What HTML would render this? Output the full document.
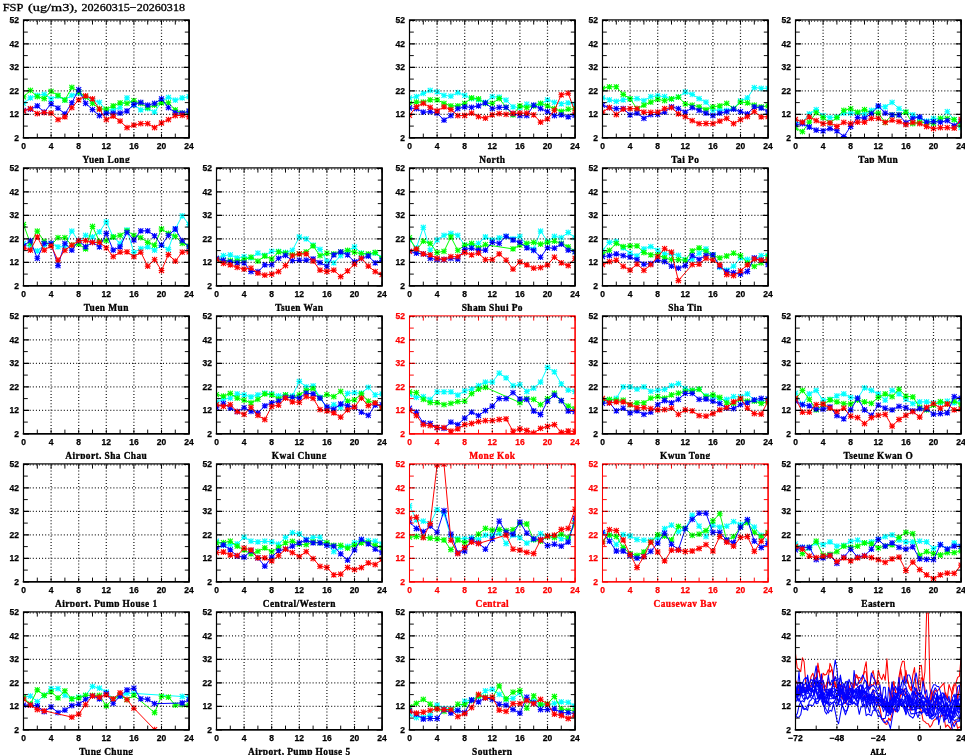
<!DOCTYPE html>
<html><head><meta charset="utf-8"><title>FSP</title>
<style>html,body{margin:0;padding:0;background:#fff}svg{display:block;will-change:transform}text{font-family:"Liberation Serif",serif}.t text{font-family:"Liberation Sans",sans-serif;font-weight:bold;font-size:8.5px;stroke-width:.25px;stroke:currentColor}.n{font-weight:bold;font-size:9.4px;letter-spacing:.42px;text-anchor:middle;stroke-width:.3px}.g{stroke:#000;stroke-width:1.25;stroke-dasharray:1 2.1;fill:none;opacity:.88}</style></head><body>
<svg width="965" height="755" viewBox="0 0 965 755">
<rect width="965" height="755" fill="#fff"/>
<defs>
<marker id="mr" markerWidth="8" markerHeight="8" refX="4" refY="4" markerUnits="userSpaceOnUse" overflow="visible"><path d="M1.1 4H6.9M4 1.1V6.9M1.5 1.5L6.5 6.5M1.5 6.5L6.5 1.5" stroke="#ff0000" stroke-width="1.08" fill="none"/></marker>
<marker id="mb" markerWidth="8" markerHeight="8" refX="4" refY="4" markerUnits="userSpaceOnUse" overflow="visible"><path d="M1.1 4H6.9M4 1.1V6.9M1.5 1.5L6.5 6.5M1.5 6.5L6.5 1.5" stroke="#0000ff" stroke-width="1.08" fill="none"/></marker>
<marker id="mg" markerWidth="8" markerHeight="8" refX="4" refY="4" markerUnits="userSpaceOnUse" overflow="visible"><path d="M1.1 4H6.9M4 1.1V6.9M1.5 1.5L6.5 6.5M1.5 6.5L6.5 1.5" stroke="#00ff00" stroke-width="1.08" fill="none"/></marker>
<marker id="mc" markerWidth="8" markerHeight="8" refX="4" refY="4" markerUnits="userSpaceOnUse" overflow="visible"><path d="M1.1 4H6.9M4 1.1V6.9M1.5 1.5L6.5 6.5M1.5 6.5L6.5 1.5" stroke="#00ffff" stroke-width="1.08" fill="none"/></marker>
</defs>
<g font-size="10.6" stroke="#000" stroke-width=".3"><text x="2.7" y="10.5" textLength="20.7" lengthAdjust="spacingAndGlyphs">FSP</text><text x="28" y="10.5" textLength="49.7" lengthAdjust="spacingAndGlyphs">(ug/m3),</text><text x="81.5" y="10.5" textLength="103.5" lengthAdjust="spacingAndGlyphs">20260315−20260318</text></g>
<g>
<clipPath id="c1"><rect x="23.5" y="20.4" width="165.6" height="117.4"/></clipPath>
<g clip-path="url(#c1)" fill="none" stroke-linejoin="round">
<polyline stroke="#00ffff" stroke-width="1.0" marker-start="url(#mc)" marker-mid="url(#mc)" marker-end="url(#mc)" points="23.5,103.3 30.4,97.9 37.3,95.3 44.2,94.4 51.1,98.8 58,96.2 64.9,99.8 71.8,95.3 78.7,93.4 85.6,96.9 92.5,99.8 99.4,102.3 106.3,110.3 113.2,109.6 120.1,107.7 127,97.9 133.9,105.2 140.8,109.9 147.7,108.7 154.6,112.2 161.5,101.4 168.4,97.4 175.3,100.2 182.2,97.9 189.1,96.7"/>
<polyline stroke="#00ff00" stroke-width="1.0" marker-start="url(#mg)" marker-mid="url(#mg)" marker-end="url(#mg)" points="23.5,96.9 30.4,90.4 37.3,96.7 44.2,98.6 51.1,91.3 58,95.3 64.9,100.2 71.8,87.3 78.7,91.8 85.6,96.9 92.5,103.3 99.4,108.7 106.3,109.2 113.2,105.9 120.1,102.8 127,103.3 133.9,100.7 140.8,103.3 147.7,107.7 154.6,105.2 161.5,102.8 168.4,102.8 175.3,109.9 182.2,113.1 189.1,111.7"/>
<polyline stroke="#0000ff" stroke-width="1.0" marker-start="url(#mb)" marker-mid="url(#mb)" marker-end="url(#mb)" points="23.5,110.3 30.4,109.2 37.3,105.9 44.2,112.2 51.1,103.8 58,108.2 64.9,113.9 71.8,102.8 78.7,89.7 85.6,103.3 92.5,109.6 99.4,115.7 106.3,113.1 113.2,113.1 120.1,113.1 127,111 133.9,104.5 140.8,102.3 147.7,105.2 154.6,103.3 161.5,98.8 168.4,107.7 175.3,112.7 182.2,113.1 189.1,111"/>
<polyline stroke="#ff0000" stroke-width="1.0" marker-start="url(#mr)" marker-mid="url(#mr)" marker-end="url(#mr)" points="23.5,111 30.4,108.7 37.3,113.6 44.2,112.7 51.1,113.1 58,119.7 64.9,116.9 71.8,107.7 78.7,99.8 85.6,95.8 92.5,98.8 99.4,109.2 106.3,119.7 113.2,116.2 120.1,121.1 127,127.7 133.9,125.1 140.8,123.7 147.7,123.7 154.6,127.7 161.5,123 168.4,119.7 175.3,115.7 182.2,115.3 189.1,116.9"/>
</g>
<path d="M23.5 126.1h4.3M189.1 126.1h-4.3M23.5 102.6h4.3M189.1 102.6h-4.3M23.5 79.1h4.3M189.1 79.1h-4.3M23.5 55.6h4.3M189.1 55.6h-4.3M23.5 32.1h4.3M189.1 32.1h-4.3M23.5 137.8v-4.2M23.5 20.4v4.2M37.3 137.8v-4.2M37.3 20.4v4.2M51.1 137.8v-4.2M51.1 20.4v4.2M64.9 137.8v-4.2M64.9 20.4v4.2M78.7 137.8v-4.2M78.7 20.4v4.2M92.5 137.8v-4.2M92.5 20.4v4.2M106.3 137.8v-4.2M106.3 20.4v4.2M120.1 137.8v-4.2M120.1 20.4v4.2M133.9 137.8v-4.2M133.9 20.4v4.2M147.7 137.8v-4.2M147.7 20.4v4.2M161.5 137.8v-4.2M161.5 20.4v4.2M175.3 137.8v-4.2M175.3 20.4v4.2M189.1 137.8v-4.2M189.1 20.4v4.2" stroke="#000" stroke-width=".95" fill="none"/>
<path d="M23.5 137.8h5.5M189.1 137.8h-5.5M23.5 114.3h5.5M189.1 114.3h-5.5M23.5 90.8h5.5M189.1 90.8h-5.5M23.5 67.4h5.5M189.1 67.4h-5.5M23.5 43.9h5.5M189.1 43.9h-5.5M23.5 20.4h5.5M189.1 20.4h-5.5" stroke="#000" stroke-width="1.35" fill="none"/>
<rect x="23.5" y="19.9" width="165.6" height="117.9" fill="none" stroke="#000" stroke-width="1.2"/>
<path d="M23.5 137.8H189.1V20.4" fill="none" stroke="#000" stroke-width="1.5" stroke-linecap="square"/>
<path class="g" d="M23.5 114.3H189.1M23.5 90.8H189.1M23.5 67.4H189.1M23.5 43.9H189.1M23.5 21H189.1M51.1 20.4V137.8M78.7 20.4V137.8M106.3 20.4V137.8M133.9 20.4V137.8M161.5 20.4V137.8"/>
<g class="t" fill="#000" color="#000"><text x="18.9" y="140.7" text-anchor="end">2</text><text x="18.9" y="117.2" text-anchor="end">12</text><text x="18.9" y="93.7" text-anchor="end">22</text><text x="18.9" y="70.3" text-anchor="end">32</text><text x="18.9" y="46.8" text-anchor="end">42</text><text x="18.9" y="23.3" text-anchor="end">52</text><text x="23.5" y="148.7" text-anchor="middle">0</text><text x="51.1" y="148.7" text-anchor="middle">4</text><text x="78.7" y="148.7" text-anchor="middle">8</text><text x="106.3" y="148.7" text-anchor="middle">12</text><text x="133.9" y="148.7" text-anchor="middle">16</text><text x="161.5" y="148.7" text-anchor="middle">20</text><text x="189.1" y="148.7" text-anchor="middle">24</text></g>
<clipPath id="c2"><rect x="13.5" y="151.8" width="185.6" height="11.1"/></clipPath><text class="n" clip-path="url(#c2)" x="106.3" y="162.7" fill="#000" stroke="#000">Yuen Long</text>
</g>
<g>
<clipPath id="c3"><rect x="409.5" y="20.4" width="165.6" height="117.4"/></clipPath>
<g clip-path="url(#c3)" fill="none" stroke-linejoin="round">
<polyline stroke="#00ffff" stroke-width="1.0" marker-start="url(#mc)" marker-mid="url(#mc)" marker-end="url(#mc)" points="409.5,97.9 416.4,96.7 423.3,93.4 430.2,90.4 437.1,91.8 444,95.3 450.9,96.2 457.8,92.7 464.7,95.3 471.6,98.6 478.5,99.8 485.4,102.3 492.3,96.7 499.2,97.2 506.1,100.2 513,106.8 519.9,107.7 526.8,104.2 533.7,105.6 540.6,104.2 547.5,99.8 554.4,102.3 561.3,103.8 568.2,102.8 575.1,104.2"/>
<polyline stroke="#00ff00" stroke-width="1.0" marker-start="url(#mg)" marker-mid="url(#mg)" marker-end="url(#mg)" points="409.5,103.3 416.4,102.1 423.3,102.1 430.2,99.8 437.1,99.8 444,103.3 450.9,105.9 457.8,105.9 464.7,103.3 471.6,97.9 478.5,98.8 485.4,103.3 492.3,103.3 499.2,98.6 506.1,107.3 513,114.8 519.9,105.9 526.8,107.7 533.7,105.9 540.6,103.3 547.5,105.9 554.4,108.7 561.3,111.3 568.2,109.2 575.1,108.7"/>
<polyline stroke="#0000ff" stroke-width="1.0" marker-start="url(#mb)" marker-mid="url(#mb)" marker-end="url(#mb)" points="409.5,108 416.4,108.7 423.3,112.2 430.2,111.7 437.1,113.1 444,120.2 450.9,115.7 457.8,108.7 464.7,106.8 471.6,107.3 478.5,105.9 485.4,102.8 492.3,108.7 499.2,107.3 506.1,107.3 513,113.6 519.9,115.7 526.8,115.7 533.7,105.2 540.6,108.7 547.5,111.7 554.4,115.7 561.3,114.8 568.2,116.9 575.1,115.3"/>
<polyline stroke="#ff0000" stroke-width="1.0" marker-start="url(#mr)" marker-mid="url(#mr)" marker-end="url(#mr)" points="409.5,115.3 416.4,106.8 423.3,103.3 430.2,107.3 437.1,111 444,106.8 450.9,109.6 457.8,115.7 464.7,115.5 471.6,113.1 478.5,116.7 485.4,118.1 492.3,114.8 499.2,113.6 506.1,114.3 513,113.4 519.9,113.1 526.8,113.1 533.7,114.8 540.6,122.1 547.5,118.8 554.4,110.3 561.3,94.8 568.2,93.2 575.1,112.2"/>
</g>
<path d="M409.5 126.1h4.3M575.1 126.1h-4.3M409.5 102.6h4.3M575.1 102.6h-4.3M409.5 79.1h4.3M575.1 79.1h-4.3M409.5 55.6h4.3M575.1 55.6h-4.3M409.5 32.1h4.3M575.1 32.1h-4.3M409.5 137.8v-4.2M409.5 20.4v4.2M423.3 137.8v-4.2M423.3 20.4v4.2M437.1 137.8v-4.2M437.1 20.4v4.2M450.9 137.8v-4.2M450.9 20.4v4.2M464.7 137.8v-4.2M464.7 20.4v4.2M478.5 137.8v-4.2M478.5 20.4v4.2M492.3 137.8v-4.2M492.3 20.4v4.2M506.1 137.8v-4.2M506.1 20.4v4.2M519.9 137.8v-4.2M519.9 20.4v4.2M533.7 137.8v-4.2M533.7 20.4v4.2M547.5 137.8v-4.2M547.5 20.4v4.2M561.3 137.8v-4.2M561.3 20.4v4.2M575.1 137.8v-4.2M575.1 20.4v4.2" stroke="#000" stroke-width=".95" fill="none"/>
<path d="M409.5 137.8h5.5M575.1 137.8h-5.5M409.5 114.3h5.5M575.1 114.3h-5.5M409.5 90.8h5.5M575.1 90.8h-5.5M409.5 67.4h5.5M575.1 67.4h-5.5M409.5 43.9h5.5M575.1 43.9h-5.5M409.5 20.4h5.5M575.1 20.4h-5.5" stroke="#000" stroke-width="1.35" fill="none"/>
<rect x="409.5" y="19.9" width="165.6" height="117.9" fill="none" stroke="#000" stroke-width="1.2"/>
<path d="M409.5 137.8H575.1V20.4" fill="none" stroke="#000" stroke-width="1.5" stroke-linecap="square"/>
<path class="g" d="M409.5 114.3H575.1M409.5 90.8H575.1M409.5 67.4H575.1M409.5 43.9H575.1M409.5 21H575.1M437.1 20.4V137.8M464.7 20.4V137.8M492.3 20.4V137.8M519.9 20.4V137.8M547.5 20.4V137.8"/>
<g class="t" fill="#000" color="#000"><text x="404.9" y="140.7" text-anchor="end">2</text><text x="404.9" y="117.2" text-anchor="end">12</text><text x="404.9" y="93.7" text-anchor="end">22</text><text x="404.9" y="70.3" text-anchor="end">32</text><text x="404.9" y="46.8" text-anchor="end">42</text><text x="404.9" y="23.3" text-anchor="end">52</text><text x="409.5" y="148.7" text-anchor="middle">0</text><text x="437.1" y="148.7" text-anchor="middle">4</text><text x="464.7" y="148.7" text-anchor="middle">8</text><text x="492.3" y="148.7" text-anchor="middle">12</text><text x="519.9" y="148.7" text-anchor="middle">16</text><text x="547.5" y="148.7" text-anchor="middle">20</text><text x="575.1" y="148.7" text-anchor="middle">24</text></g>
<clipPath id="c4"><rect x="399.5" y="151.8" width="185.6" height="11.1"/></clipPath><text class="n" clip-path="url(#c4)" x="492.3" y="162.7" fill="#000" stroke="#000">North</text>
</g>
<g>
<clipPath id="c5"><rect x="602.5" y="20.4" width="165.6" height="117.4"/></clipPath>
<g clip-path="url(#c5)" fill="none" stroke-linejoin="round">
<polyline stroke="#00ffff" stroke-width="1.0" marker-start="url(#mc)" marker-mid="url(#mc)" marker-end="url(#mc)" points="602.5,97.9 609.4,99.8 616.3,101.4 623.2,99.8 630.1,98.8 637,98.6 643.9,100.7 650.8,96.7 657.7,95.8 664.6,96.7 671.5,98.8 678.4,97.2 685.3,92 692.2,94.4 699.1,98.6 706,102.1 712.9,110.3 719.8,109.9 726.7,110.3 733.6,108.7 740.5,100.9 747.4,97.9 754.3,87.6 761.2,88.3 768.1,88.3"/>
<polyline stroke="#00ff00" stroke-width="1.0" marker-start="url(#mg)" marker-mid="url(#mg)" marker-end="url(#mg)" points="602.5,88.3 609.4,86.8 616.3,86.8 623.2,94.4 630.1,98.8 637,108.7 643.9,105.2 650.8,102.1 657.7,99.3 664.6,100.7 671.5,98.8 678.4,97.2 685.3,103.8 692.2,105.2 699.1,106.8 706,109.6 712.9,106.8 719.8,105.9 726.7,103.3 733.6,108.7 740.5,102.1 747.4,102.8 754.3,105.2 761.2,106.8 768.1,105.9"/>
<polyline stroke="#0000ff" stroke-width="1.0" marker-start="url(#mb)" marker-mid="url(#mb)" marker-end="url(#mb)" points="602.5,105.2 609.4,107.7 616.3,108.7 623.2,108.7 630.1,114.8 637,113.1 643.9,118.3 650.8,114.6 657.7,114.3 664.6,112.2 671.5,106.8 678.4,108.7 685.3,112.2 692.2,107.7 699.1,110.3 706,113.1 712.9,115.7 719.8,113.1 726.7,111.7 733.6,109.2 740.5,111.7 747.4,113.9 754.3,106.8 761.2,108 768.1,111.7"/>
<polyline stroke="#ff0000" stroke-width="1.0" marker-start="url(#mr)" marker-mid="url(#mr)" marker-end="url(#mr)" points="602.5,112.2 609.4,107.7 616.3,114.6 623.2,109.2 630.1,108.7 637,108.7 643.9,112.2 650.8,112.4 657.7,112.2 664.6,108.7 671.5,107.7 678.4,113.9 685.3,116.7 692.2,120.7 699.1,123.7 706,123.5 712.9,123.7 719.8,121.1 726.7,118.3 733.6,123.7 740.5,119.7 747.4,116.7 754.3,111.7 761.2,116.9 768.1,116.7"/>
</g>
<path d="M602.5 126.1h4.3M768.1 126.1h-4.3M602.5 102.6h4.3M768.1 102.6h-4.3M602.5 79.1h4.3M768.1 79.1h-4.3M602.5 55.6h4.3M768.1 55.6h-4.3M602.5 32.1h4.3M768.1 32.1h-4.3M602.5 137.8v-4.2M602.5 20.4v4.2M616.3 137.8v-4.2M616.3 20.4v4.2M630.1 137.8v-4.2M630.1 20.4v4.2M643.9 137.8v-4.2M643.9 20.4v4.2M657.7 137.8v-4.2M657.7 20.4v4.2M671.5 137.8v-4.2M671.5 20.4v4.2M685.3 137.8v-4.2M685.3 20.4v4.2M699.1 137.8v-4.2M699.1 20.4v4.2M712.9 137.8v-4.2M712.9 20.4v4.2M726.7 137.8v-4.2M726.7 20.4v4.2M740.5 137.8v-4.2M740.5 20.4v4.2M754.3 137.8v-4.2M754.3 20.4v4.2M768.1 137.8v-4.2M768.1 20.4v4.2" stroke="#000" stroke-width=".95" fill="none"/>
<path d="M602.5 137.8h5.5M768.1 137.8h-5.5M602.5 114.3h5.5M768.1 114.3h-5.5M602.5 90.8h5.5M768.1 90.8h-5.5M602.5 67.4h5.5M768.1 67.4h-5.5M602.5 43.9h5.5M768.1 43.9h-5.5M602.5 20.4h5.5M768.1 20.4h-5.5" stroke="#000" stroke-width="1.35" fill="none"/>
<rect x="602.5" y="19.9" width="165.6" height="117.9" fill="none" stroke="#000" stroke-width="1.2"/>
<path d="M602.5 137.8H768.1V20.4" fill="none" stroke="#000" stroke-width="1.5" stroke-linecap="square"/>
<path class="g" d="M602.5 114.3H768.1M602.5 90.8H768.1M602.5 67.4H768.1M602.5 43.9H768.1M602.5 21H768.1M630.1 20.4V137.8M657.7 20.4V137.8M685.3 20.4V137.8M712.9 20.4V137.8M740.5 20.4V137.8"/>
<g class="t" fill="#000" color="#000"><text x="597.9" y="140.7" text-anchor="end">2</text><text x="597.9" y="117.2" text-anchor="end">12</text><text x="597.9" y="93.7" text-anchor="end">22</text><text x="597.9" y="70.3" text-anchor="end">32</text><text x="597.9" y="46.8" text-anchor="end">42</text><text x="597.9" y="23.3" text-anchor="end">52</text><text x="602.5" y="148.7" text-anchor="middle">0</text><text x="630.1" y="148.7" text-anchor="middle">4</text><text x="657.7" y="148.7" text-anchor="middle">8</text><text x="685.3" y="148.7" text-anchor="middle">12</text><text x="712.9" y="148.7" text-anchor="middle">16</text><text x="740.5" y="148.7" text-anchor="middle">20</text><text x="768.1" y="148.7" text-anchor="middle">24</text></g>
<clipPath id="c6"><rect x="592.5" y="151.8" width="185.6" height="11.1"/></clipPath><text class="n" clip-path="url(#c6)" x="685.3" y="162.7" fill="#000" stroke="#000">Tai Po</text>
</g>
<g>
<clipPath id="c7"><rect x="795.5" y="20.4" width="165.6" height="117.4"/></clipPath>
<g clip-path="url(#c7)" fill="none" stroke-linejoin="round">
<polyline stroke="#00ffff" stroke-width="1.0" marker-start="url(#mc)" marker-mid="url(#mc)" marker-end="url(#mc)" points="795.5,122.8 802.4,122.1 809.3,113.9 816.2,109.6 823.1,115.7 830,117.6 836.9,116.9 843.8,113.1 850.7,113.1 857.6,113.1 864.5,113.9 871.4,110.3 878.3,106.8 885.2,106.8 892.1,102.3 899,108.7 905.9,112.2 912.8,114.8 919.7,118.1 926.6,121.1 933.5,118.3 940.4,119.3 947.3,111.7 954.2,119.7 961.1,127.7"/>
<polyline stroke="#00ff00" stroke-width="1.0" marker-start="url(#mg)" marker-mid="url(#mg)" marker-end="url(#mg)" points="795.5,128.2 802.4,131.7 809.3,122.1 816.2,112.7 823.1,117.6 830,122.8 836.9,117.6 843.8,110.3 850.7,108.7 857.6,112.2 864.5,109.6 871.4,113.1 878.3,113.1 885.2,122.3 892.1,114.8 899,114.8 905.9,112.2 912.8,123.7 919.7,122.1 926.6,122.8 933.5,123.7 940.4,118.3 947.3,118.3 954.2,119.7 961.1,125.1"/>
<polyline stroke="#0000ff" stroke-width="1.0" marker-start="url(#mb)" marker-mid="url(#mb)" marker-end="url(#mb)" points="795.5,124.7 802.4,123.7 809.3,127 816.2,130.1 823.1,130.8 830,128.6 836.9,130.8 843.8,136.6 850.7,126.5 857.6,117.6 864.5,118.1 871.4,113.6 878.3,105.9 885.2,113.1 892.1,114.8 899,114.8 905.9,122.8 912.8,118.3 919.7,116.9 926.6,122.1 933.5,121.6 940.4,122.1 947.3,120.7 954.2,125.6 961.1,121.1"/>
<polyline stroke="#ff0000" stroke-width="1.0" marker-start="url(#mr)" marker-mid="url(#mr)" marker-end="url(#mr)" points="795.5,119.3 802.4,122.1 809.3,116.9 816.2,120.7 823.1,123.7 830,122.8 836.9,126.5 843.8,122.3 850.7,123.7 857.6,122.1 864.5,122.1 871.4,118.3 878.3,118.3 885.2,122.3 892.1,120.2 899,121.6 905.9,124.7 912.8,122.3 919.7,123.7 926.6,126.5 933.5,128.6 940.4,127.7 947.3,127.7 954.2,128.2 961.1,119.3"/>
</g>
<path d="M795.5 126.1h4.3M961.1 126.1h-4.3M795.5 102.6h4.3M961.1 102.6h-4.3M795.5 79.1h4.3M961.1 79.1h-4.3M795.5 55.6h4.3M961.1 55.6h-4.3M795.5 32.1h4.3M961.1 32.1h-4.3M795.5 137.8v-4.2M795.5 20.4v4.2M809.3 137.8v-4.2M809.3 20.4v4.2M823.1 137.8v-4.2M823.1 20.4v4.2M836.9 137.8v-4.2M836.9 20.4v4.2M850.7 137.8v-4.2M850.7 20.4v4.2M864.5 137.8v-4.2M864.5 20.4v4.2M878.3 137.8v-4.2M878.3 20.4v4.2M892.1 137.8v-4.2M892.1 20.4v4.2M905.9 137.8v-4.2M905.9 20.4v4.2M919.7 137.8v-4.2M919.7 20.4v4.2M933.5 137.8v-4.2M933.5 20.4v4.2M947.3 137.8v-4.2M947.3 20.4v4.2M961.1 137.8v-4.2M961.1 20.4v4.2" stroke="#000" stroke-width=".95" fill="none"/>
<path d="M795.5 137.8h5.5M961.1 137.8h-5.5M795.5 114.3h5.5M961.1 114.3h-5.5M795.5 90.8h5.5M961.1 90.8h-5.5M795.5 67.4h5.5M961.1 67.4h-5.5M795.5 43.9h5.5M961.1 43.9h-5.5M795.5 20.4h5.5M961.1 20.4h-5.5" stroke="#000" stroke-width="1.35" fill="none"/>
<rect x="795.5" y="19.9" width="165.6" height="117.9" fill="none" stroke="#000" stroke-width="1.2"/>
<path d="M795.5 137.8H961.1V20.4" fill="none" stroke="#000" stroke-width="1.5" stroke-linecap="square"/>
<path class="g" d="M795.5 114.3H961.1M795.5 90.8H961.1M795.5 67.4H961.1M795.5 43.9H961.1M795.5 21H961.1M823.1 20.4V137.8M850.7 20.4V137.8M878.3 20.4V137.8M905.9 20.4V137.8M933.5 20.4V137.8"/>
<g class="t" fill="#000" color="#000"><text x="790.9" y="140.7" text-anchor="end">2</text><text x="790.9" y="117.2" text-anchor="end">12</text><text x="790.9" y="93.7" text-anchor="end">22</text><text x="790.9" y="70.3" text-anchor="end">32</text><text x="790.9" y="46.8" text-anchor="end">42</text><text x="790.9" y="23.3" text-anchor="end">52</text><text x="795.5" y="148.7" text-anchor="middle">0</text><text x="823.1" y="148.7" text-anchor="middle">4</text><text x="850.7" y="148.7" text-anchor="middle">8</text><text x="878.3" y="148.7" text-anchor="middle">12</text><text x="905.9" y="148.7" text-anchor="middle">16</text><text x="933.5" y="148.7" text-anchor="middle">20</text><text x="961.1" y="148.7" text-anchor="middle">24</text></g>
<clipPath id="c8"><rect x="785.5" y="151.8" width="185.6" height="11.1"/></clipPath><text class="n" clip-path="url(#c8)" x="878.3" y="162.7" fill="#000" stroke="#000">Tap Mun</text>
</g>
<g>
<clipPath id="c9"><rect x="23.5" y="168.4" width="165.6" height="117.4"/></clipPath>
<g clip-path="url(#c9)" fill="none" stroke-linejoin="round">
<polyline stroke="#00ffff" stroke-width="1.0" marker-start="url(#mc)" marker-mid="url(#mc)" marker-end="url(#mc)" points="23.5,243.3 30.4,246.8 37.3,251 44.2,245.2 51.1,243.3 58,246.8 64.9,246.8 71.8,231.1 78.7,241.4 85.6,235.3 92.5,237 99.4,231.8 106.3,221.9 113.2,237 120.1,243.3 127,229.9 133.9,252.5 140.8,248.7 147.7,246.8 154.6,250.1 161.5,245.2 168.4,249.4 175.3,229 182.2,215.8 189.1,224.5"/>
<polyline stroke="#00ff00" stroke-width="1.0" marker-start="url(#mg)" marker-mid="url(#mg)" marker-end="url(#mg)" points="23.5,224.5 30.4,243.3 37.3,231.1 44.2,241.4 51.1,245.2 58,237.7 64.9,237.7 71.8,245.2 78.7,244.2 85.6,248.9 92.5,226.4 99.4,241.4 106.3,240.7 113.2,237 120.1,235.3 127,230.9 133.9,235.3 140.8,237.7 147.7,242.4 154.6,245.2 161.5,229 168.4,233.4 175.3,236.3 182.2,243.3 189.1,245.9"/>
<polyline stroke="#0000ff" stroke-width="1.0" marker-start="url(#mb)" marker-mid="url(#mb)" marker-end="url(#mb)" points="23.5,245.9 30.4,240.7 37.3,258.3 44.2,243.3 51.1,243.3 58,265.6 64.9,243.3 71.8,250.1 78.7,240.7 85.6,246.8 92.5,242.4 99.4,246.8 106.3,233.4 113.2,250.1 120.1,246.8 127,232.3 133.9,240 140.8,230.9 147.7,230.9 154.6,235.8 161.5,245.2 168.4,235.3 175.3,229 182.2,240.7 189.1,246.8"/>
<polyline stroke="#ff0000" stroke-width="1.0" marker-start="url(#mr)" marker-mid="url(#mr)" marker-end="url(#mr)" points="23.5,247.8 30.4,250.1 37.3,237 44.2,250.1 51.1,245.9 58,260.2 64.9,250.3 71.8,245.2 78.7,240.7 85.6,240.7 92.5,242.4 99.4,242.4 106.3,247.8 113.2,256.7 120.1,252.2 127,251.8 133.9,256.7 140.8,252.2 147.7,266.1 154.6,259.7 161.5,270.5 168.4,254.6 175.3,261.1 182.2,252.2 189.1,251.8"/>
</g>
<path d="M23.5 274.1h4.3M189.1 274.1h-4.3M23.5 250.6h4.3M189.1 250.6h-4.3M23.5 227.1h4.3M189.1 227.1h-4.3M23.5 203.6h4.3M189.1 203.6h-4.3M23.5 180.1h4.3M189.1 180.1h-4.3M23.5 285.8v-4.2M23.5 168.4v4.2M37.3 285.8v-4.2M37.3 168.4v4.2M51.1 285.8v-4.2M51.1 168.4v4.2M64.9 285.8v-4.2M64.9 168.4v4.2M78.7 285.8v-4.2M78.7 168.4v4.2M92.5 285.8v-4.2M92.5 168.4v4.2M106.3 285.8v-4.2M106.3 168.4v4.2M120.1 285.8v-4.2M120.1 168.4v4.2M133.9 285.8v-4.2M133.9 168.4v4.2M147.7 285.8v-4.2M147.7 168.4v4.2M161.5 285.8v-4.2M161.5 168.4v4.2M175.3 285.8v-4.2M175.3 168.4v4.2M189.1 285.8v-4.2M189.1 168.4v4.2" stroke="#000" stroke-width=".95" fill="none"/>
<path d="M23.5 285.8h5.5M189.1 285.8h-5.5M23.5 262.3h5.5M189.1 262.3h-5.5M23.5 238.8h5.5M189.1 238.8h-5.5M23.5 215.4h5.5M189.1 215.4h-5.5M23.5 191.9h5.5M189.1 191.9h-5.5M23.5 168.4h5.5M189.1 168.4h-5.5" stroke="#000" stroke-width="1.35" fill="none"/>
<rect x="23.5" y="167.9" width="165.6" height="117.9" fill="none" stroke="#000" stroke-width="1.2"/>
<path d="M23.5 285.8H189.1V168.4" fill="none" stroke="#000" stroke-width="1.5" stroke-linecap="square"/>
<path class="g" d="M23.5 262.3H189.1M23.5 238.8H189.1M23.5 215.4H189.1M23.5 191.9H189.1M23.5 169H189.1M51.1 168.4V285.8M78.7 168.4V285.8M106.3 168.4V285.8M133.9 168.4V285.8M161.5 168.4V285.8"/>
<g class="t" fill="#000" color="#000"><text x="18.9" y="288.7" text-anchor="end">2</text><text x="18.9" y="265.2" text-anchor="end">12</text><text x="18.9" y="241.7" text-anchor="end">22</text><text x="18.9" y="218.3" text-anchor="end">32</text><text x="18.9" y="194.8" text-anchor="end">42</text><text x="18.9" y="171.3" text-anchor="end">52</text><text x="23.5" y="296.7" text-anchor="middle">0</text><text x="51.1" y="296.7" text-anchor="middle">4</text><text x="78.7" y="296.7" text-anchor="middle">8</text><text x="106.3" y="296.7" text-anchor="middle">12</text><text x="133.9" y="296.7" text-anchor="middle">16</text><text x="161.5" y="296.7" text-anchor="middle">20</text><text x="189.1" y="296.7" text-anchor="middle">24</text></g>
<clipPath id="c10"><rect x="13.5" y="299.8" width="185.6" height="11.1"/></clipPath><text class="n" clip-path="url(#c10)" x="106.3" y="310.7" fill="#000" stroke="#000">Tuen Mun</text>
</g>
<g>
<clipPath id="c11"><rect x="216.5" y="168.4" width="165.6" height="117.4"/></clipPath>
<g clip-path="url(#c11)" fill="none" stroke-linejoin="round">
<polyline stroke="#00ffff" stroke-width="1.0" marker-start="url(#mc)" marker-mid="url(#mc)" marker-end="url(#mc)" points="216.5,258.3 223.4,255.7 230.3,254.8 237.2,257.9 244.1,256.7 251,257.9 257.9,253.2 264.8,255.3 271.7,251.3 278.6,251.3 285.5,252.5 292.4,250.3 299.3,237 306.2,238.8 313.1,245.2 320,249.4 326.9,261.1 333.8,262.8 340.7,255.7 347.6,250.8 354.5,246.8 361.4,253.2 368.3,254.8 375.2,253.2 382.1,257.6"/>
<polyline stroke="#00ff00" stroke-width="1.0" marker-start="url(#mg)" marker-mid="url(#mg)" marker-end="url(#mg)" points="216.5,259.3 223.4,260.7 230.3,260.7 237.2,261.1 244.1,259.7 251,257.2 257.9,261.1 264.8,256 271.7,259 278.6,251.8 285.5,253.2 292.4,254.8 299.3,253.9 306.2,251.8 313.1,245.9 320,255.7 326.9,253.2 333.8,253.9 340.7,251.8 347.6,250.3 354.5,252.2 361.4,253.6 368.3,253.9 375.2,252.5 382.1,258.3"/>
<polyline stroke="#0000ff" stroke-width="1.0" marker-start="url(#mb)" marker-mid="url(#mb)" marker-end="url(#mb)" points="216.5,258.3 223.4,260.2 230.3,261.9 237.2,262.8 244.1,262.8 251,271.5 257.9,271.7 264.8,264.9 271.7,264.7 278.6,258.3 285.5,255.3 292.4,260.7 299.3,260.2 306.2,260.2 313.1,259 320,262.6 326.9,266.3 333.8,254.8 340.7,251.8 347.6,254.8 354.5,261.9 361.4,258.3 368.3,256 375.2,262.8 382.1,260.2"/>
<polyline stroke="#ff0000" stroke-width="1.0" marker-start="url(#mr)" marker-mid="url(#mr)" marker-end="url(#mr)" points="216.5,259.3 223.4,263.3 230.3,264.9 237.2,267.3 244.1,269.1 251,268.2 257.9,273.1 264.8,275.2 271.7,274.1 278.6,271.7 285.5,265.6 292.4,255.7 299.3,253.9 306.2,253.9 313.1,261.1 320,270.1 326.9,271.5 333.8,270.1 340.7,276.6 347.6,270.8 354.5,264.2 361.4,258.3 368.3,266.1 375.2,271.7 382.1,274.5"/>
</g>
<path d="M216.5 274.1h4.3M382.1 274.1h-4.3M216.5 250.6h4.3M382.1 250.6h-4.3M216.5 227.1h4.3M382.1 227.1h-4.3M216.5 203.6h4.3M382.1 203.6h-4.3M216.5 180.1h4.3M382.1 180.1h-4.3M216.5 285.8v-4.2M216.5 168.4v4.2M230.3 285.8v-4.2M230.3 168.4v4.2M244.1 285.8v-4.2M244.1 168.4v4.2M257.9 285.8v-4.2M257.9 168.4v4.2M271.7 285.8v-4.2M271.7 168.4v4.2M285.5 285.8v-4.2M285.5 168.4v4.2M299.3 285.8v-4.2M299.3 168.4v4.2M313.1 285.8v-4.2M313.1 168.4v4.2M326.9 285.8v-4.2M326.9 168.4v4.2M340.7 285.8v-4.2M340.7 168.4v4.2M354.5 285.8v-4.2M354.5 168.4v4.2M368.3 285.8v-4.2M368.3 168.4v4.2M382.1 285.8v-4.2M382.1 168.4v4.2" stroke="#000" stroke-width=".95" fill="none"/>
<path d="M216.5 285.8h5.5M382.1 285.8h-5.5M216.5 262.3h5.5M382.1 262.3h-5.5M216.5 238.8h5.5M382.1 238.8h-5.5M216.5 215.4h5.5M382.1 215.4h-5.5M216.5 191.9h5.5M382.1 191.9h-5.5M216.5 168.4h5.5M382.1 168.4h-5.5" stroke="#000" stroke-width="1.35" fill="none"/>
<rect x="216.5" y="167.9" width="165.6" height="117.9" fill="none" stroke="#000" stroke-width="1.2"/>
<path d="M216.5 285.8H382.1V168.4" fill="none" stroke="#000" stroke-width="1.5" stroke-linecap="square"/>
<path class="g" d="M216.5 262.3H382.1M216.5 238.8H382.1M216.5 215.4H382.1M216.5 191.9H382.1M216.5 169H382.1M244.1 168.4V285.8M271.7 168.4V285.8M299.3 168.4V285.8M326.9 168.4V285.8M354.5 168.4V285.8"/>
<g class="t" fill="#000" color="#000"><text x="211.9" y="288.7" text-anchor="end">2</text><text x="211.9" y="265.2" text-anchor="end">12</text><text x="211.9" y="241.7" text-anchor="end">22</text><text x="211.9" y="218.3" text-anchor="end">32</text><text x="211.9" y="194.8" text-anchor="end">42</text><text x="211.9" y="171.3" text-anchor="end">52</text><text x="216.5" y="296.7" text-anchor="middle">0</text><text x="244.1" y="296.7" text-anchor="middle">4</text><text x="271.7" y="296.7" text-anchor="middle">8</text><text x="299.3" y="296.7" text-anchor="middle">12</text><text x="326.9" y="296.7" text-anchor="middle">16</text><text x="354.5" y="296.7" text-anchor="middle">20</text><text x="382.1" y="296.7" text-anchor="middle">24</text></g>
<clipPath id="c12"><rect x="206.5" y="299.8" width="185.6" height="11.1"/></clipPath><text class="n" clip-path="url(#c12)" x="299.3" y="310.7" fill="#000" stroke="#000">Tsuen Wan</text>
</g>
<g>
<clipPath id="c13"><rect x="409.5" y="168.4" width="165.6" height="117.4"/></clipPath>
<g clip-path="url(#c13)" fill="none" stroke-linejoin="round">
<polyline stroke="#00ffff" stroke-width="1.0" marker-start="url(#mc)" marker-mid="url(#mc)" marker-end="url(#mc)" points="409.5,239.8 416.4,247.8 423.3,227.3 430.2,250.3 437.1,239.8 444,235.3 450.9,233.4 457.8,235.3 464.7,245.2 471.6,245.2 478.5,243.3 485.4,237 492.3,239.8 499.2,237.9 506.1,236.3 513,238.8 519.9,236.3 526.8,245.2 533.7,249.4 540.6,231.1 547.5,241.4 554.4,236.3 561.3,237.7 568.2,232.5 575.1,237.7"/>
<polyline stroke="#00ff00" stroke-width="1.0" marker-start="url(#mg)" marker-mid="url(#mg)" marker-end="url(#mg)" points="409.5,237.7 416.4,250.3 423.3,241.2 430.2,243.3 437.1,252.5 444,251.3 450.9,237 457.8,250.3 464.7,245.2 471.6,243.5 478.5,247.8 485.4,244.7 513,248.9 519.9,245.2 526.8,243.3 533.7,242.4 540.6,244.2 547.5,242.4 554.4,241.2 561.3,243.3 568.2,246.8 575.1,251.3"/>
<polyline stroke="#0000ff" stroke-width="1.0" marker-start="url(#mb)" marker-mid="url(#mb)" marker-end="url(#mb)" points="409.5,251.3 416.4,253.2 423.3,253.9 430.2,258.3 437.1,259.7 444,259.7 450.9,258.3 457.8,259 464.7,249.4 471.6,248.2 478.5,250.1 485.4,250.1 492.3,242.4 499.2,243.3 506.1,236.3 513,240 519.9,242.4 526.8,247.8 533.7,250.3 540.6,257.2 547.5,247.8 554.4,248.2 561.3,244.2 568.2,250.1 575.1,251.8"/>
<polyline stroke="#ff0000" stroke-width="1.0" marker-start="url(#mr)" marker-mid="url(#mr)" marker-end="url(#mr)" points="409.5,251.3 416.4,248.9 423.3,253.9 430.2,254.8 437.1,258.3 444,259.3 450.9,256.7 457.8,256.7 464.7,252.5 471.6,254.8 478.5,253.2 485.4,259.7 492.3,259.7 499.2,253.9 506.1,260.2 513,269.1 519.9,261.9 526.8,264.9 533.7,268.2 540.6,267.7 547.5,264.9 554.4,257.2 561.3,262.8 568.2,265.6 575.1,258.3"/>
</g>
<path d="M409.5 274.1h4.3M575.1 274.1h-4.3M409.5 250.6h4.3M575.1 250.6h-4.3M409.5 227.1h4.3M575.1 227.1h-4.3M409.5 203.6h4.3M575.1 203.6h-4.3M409.5 180.1h4.3M575.1 180.1h-4.3M409.5 285.8v-4.2M409.5 168.4v4.2M423.3 285.8v-4.2M423.3 168.4v4.2M437.1 285.8v-4.2M437.1 168.4v4.2M450.9 285.8v-4.2M450.9 168.4v4.2M464.7 285.8v-4.2M464.7 168.4v4.2M478.5 285.8v-4.2M478.5 168.4v4.2M492.3 285.8v-4.2M492.3 168.4v4.2M506.1 285.8v-4.2M506.1 168.4v4.2M519.9 285.8v-4.2M519.9 168.4v4.2M533.7 285.8v-4.2M533.7 168.4v4.2M547.5 285.8v-4.2M547.5 168.4v4.2M561.3 285.8v-4.2M561.3 168.4v4.2M575.1 285.8v-4.2M575.1 168.4v4.2" stroke="#000" stroke-width=".95" fill="none"/>
<path d="M409.5 285.8h5.5M575.1 285.8h-5.5M409.5 262.3h5.5M575.1 262.3h-5.5M409.5 238.8h5.5M575.1 238.8h-5.5M409.5 215.4h5.5M575.1 215.4h-5.5M409.5 191.9h5.5M575.1 191.9h-5.5M409.5 168.4h5.5M575.1 168.4h-5.5" stroke="#000" stroke-width="1.35" fill="none"/>
<rect x="409.5" y="167.9" width="165.6" height="117.9" fill="none" stroke="#000" stroke-width="1.2"/>
<path d="M409.5 285.8H575.1V168.4" fill="none" stroke="#000" stroke-width="1.5" stroke-linecap="square"/>
<path class="g" d="M409.5 262.3H575.1M409.5 238.8H575.1M409.5 215.4H575.1M409.5 191.9H575.1M409.5 169H575.1M437.1 168.4V285.8M464.7 168.4V285.8M492.3 168.4V285.8M519.9 168.4V285.8M547.5 168.4V285.8"/>
<g class="t" fill="#000" color="#000"><text x="404.9" y="288.7" text-anchor="end">2</text><text x="404.9" y="265.2" text-anchor="end">12</text><text x="404.9" y="241.7" text-anchor="end">22</text><text x="404.9" y="218.3" text-anchor="end">32</text><text x="404.9" y="194.8" text-anchor="end">42</text><text x="404.9" y="171.3" text-anchor="end">52</text><text x="409.5" y="296.7" text-anchor="middle">0</text><text x="437.1" y="296.7" text-anchor="middle">4</text><text x="464.7" y="296.7" text-anchor="middle">8</text><text x="492.3" y="296.7" text-anchor="middle">12</text><text x="519.9" y="296.7" text-anchor="middle">16</text><text x="547.5" y="296.7" text-anchor="middle">20</text><text x="575.1" y="296.7" text-anchor="middle">24</text></g>
<clipPath id="c14"><rect x="399.5" y="299.8" width="185.6" height="11.1"/></clipPath><text class="n" clip-path="url(#c14)" x="492.3" y="310.7" fill="#000" stroke="#000">Sham Shui Po</text>
</g>
<g>
<clipPath id="c15"><rect x="602.5" y="168.4" width="165.6" height="117.4"/></clipPath>
<g clip-path="url(#c15)" fill="none" stroke-linejoin="round">
<polyline stroke="#00ffff" stroke-width="1.0" marker-start="url(#mc)" marker-mid="url(#mc)" marker-end="url(#mc)" points="602.5,250.3 609.4,242.4 616.3,241.4 623.2,247.8 630.1,253.2 637,256 643.9,248.9 650.8,246.6 657.7,250.3 664.6,253.9 671.5,253.9 678.4,255.3 685.3,259.7 692.2,259.3 699.1,253.2 706,248.9 712.9,254.8 719.8,267.3 726.7,270.1 733.6,266.1 740.5,257.9 747.4,259.3 754.3,259 761.2,255.7 768.1,255.3"/>
<polyline stroke="#00ff00" stroke-width="1.0" marker-start="url(#mg)" marker-mid="url(#mg)" marker-end="url(#mg)" points="602.5,253.9 609.4,250.3 616.3,243.3 623.2,246.6 630.1,245.9 637,245.9 643.9,252.5 650.8,254.8 657.7,254.8 664.6,257.9 671.5,259.7 678.4,259.7 685.3,260.2 692.2,250.8 699.1,247.8 706,251.3 712.9,255.7 719.8,257.9 726.7,256 733.6,253.2 740.5,255.7 747.4,262.8 754.3,266.3 761.2,262.8 768.1,256.7"/>
<polyline stroke="#0000ff" stroke-width="1.0" marker-start="url(#mb)" marker-mid="url(#mb)" marker-end="url(#mb)" points="602.5,256.7 609.4,255.7 616.3,253.9 623.2,255.7 630.1,257.2 637,259.7 643.9,264.2 650.8,263.7 657.7,260.2 664.6,261.6 671.5,266.1 678.4,268.2 685.3,265.6 692.2,255.7 699.1,259.3 706,255.3 712.9,254.8 719.8,266.3 726.7,271.5 733.6,272.7 740.5,274.1 747.4,271.5 754.3,257.9 761.2,260.2 768.1,264.7"/>
<polyline stroke="#ff0000" stroke-width="1.0" marker-start="url(#mr)" marker-mid="url(#mr)" marker-end="url(#mr)" points="602.5,264.7 609.4,261.6 616.3,260.2 623.2,266.3 630.1,270.1 637,264.2 643.9,270.3 650.8,264.7 657.7,256.7 664.6,248.7 671.5,252.2 678.4,280.6 692.2,264.7 699.1,264.2 706,258.3 712.9,260.2 719.8,264.9 726.7,274.5 733.6,275.7 740.5,270.8 747.4,264.9 754.3,259 761.2,260.2 768.1,259.7"/>
</g>
<path d="M602.5 274.1h4.3M768.1 274.1h-4.3M602.5 250.6h4.3M768.1 250.6h-4.3M602.5 227.1h4.3M768.1 227.1h-4.3M602.5 203.6h4.3M768.1 203.6h-4.3M602.5 180.1h4.3M768.1 180.1h-4.3M602.5 285.8v-4.2M602.5 168.4v4.2M616.3 285.8v-4.2M616.3 168.4v4.2M630.1 285.8v-4.2M630.1 168.4v4.2M643.9 285.8v-4.2M643.9 168.4v4.2M657.7 285.8v-4.2M657.7 168.4v4.2M671.5 285.8v-4.2M671.5 168.4v4.2M685.3 285.8v-4.2M685.3 168.4v4.2M699.1 285.8v-4.2M699.1 168.4v4.2M712.9 285.8v-4.2M712.9 168.4v4.2M726.7 285.8v-4.2M726.7 168.4v4.2M740.5 285.8v-4.2M740.5 168.4v4.2M754.3 285.8v-4.2M754.3 168.4v4.2M768.1 285.8v-4.2M768.1 168.4v4.2" stroke="#000" stroke-width=".95" fill="none"/>
<path d="M602.5 285.8h5.5M768.1 285.8h-5.5M602.5 262.3h5.5M768.1 262.3h-5.5M602.5 238.8h5.5M768.1 238.8h-5.5M602.5 215.4h5.5M768.1 215.4h-5.5M602.5 191.9h5.5M768.1 191.9h-5.5M602.5 168.4h5.5M768.1 168.4h-5.5" stroke="#000" stroke-width="1.35" fill="none"/>
<rect x="602.5" y="167.9" width="165.6" height="117.9" fill="none" stroke="#000" stroke-width="1.2"/>
<path d="M602.5 285.8H768.1V168.4" fill="none" stroke="#000" stroke-width="1.5" stroke-linecap="square"/>
<path class="g" d="M602.5 262.3H768.1M602.5 238.8H768.1M602.5 215.4H768.1M602.5 191.9H768.1M602.5 169H768.1M630.1 168.4V285.8M657.7 168.4V285.8M685.3 168.4V285.8M712.9 168.4V285.8M740.5 168.4V285.8"/>
<g class="t" fill="#000" color="#000"><text x="597.9" y="288.7" text-anchor="end">2</text><text x="597.9" y="265.2" text-anchor="end">12</text><text x="597.9" y="241.7" text-anchor="end">22</text><text x="597.9" y="218.3" text-anchor="end">32</text><text x="597.9" y="194.8" text-anchor="end">42</text><text x="597.9" y="171.3" text-anchor="end">52</text><text x="602.5" y="296.7" text-anchor="middle">0</text><text x="630.1" y="296.7" text-anchor="middle">4</text><text x="657.7" y="296.7" text-anchor="middle">8</text><text x="685.3" y="296.7" text-anchor="middle">12</text><text x="712.9" y="296.7" text-anchor="middle">16</text><text x="740.5" y="296.7" text-anchor="middle">20</text><text x="768.1" y="296.7" text-anchor="middle">24</text></g>
<clipPath id="c16"><rect x="592.5" y="299.8" width="185.6" height="11.1"/></clipPath><text class="n" clip-path="url(#c16)" x="685.3" y="310.7" fill="#000" stroke="#000">Sha Tin</text>
</g>
<g>
<clipPath id="c17"><rect x="23.5" y="316.4" width="165.6" height="117.4"/></clipPath>
<g clip-path="url(#c17)" fill="none" stroke-linejoin="round">
</g>
<path d="M23.5 422.1h4.3M189.1 422.1h-4.3M23.5 398.6h4.3M189.1 398.6h-4.3M23.5 375.1h4.3M189.1 375.1h-4.3M23.5 351.6h4.3M189.1 351.6h-4.3M23.5 328.1h4.3M189.1 328.1h-4.3M23.5 433.8v-4.2M23.5 316.4v4.2M37.3 433.8v-4.2M37.3 316.4v4.2M51.1 433.8v-4.2M51.1 316.4v4.2M64.9 433.8v-4.2M64.9 316.4v4.2M78.7 433.8v-4.2M78.7 316.4v4.2M92.5 433.8v-4.2M92.5 316.4v4.2M106.3 433.8v-4.2M106.3 316.4v4.2M120.1 433.8v-4.2M120.1 316.4v4.2M133.9 433.8v-4.2M133.9 316.4v4.2M147.7 433.8v-4.2M147.7 316.4v4.2M161.5 433.8v-4.2M161.5 316.4v4.2M175.3 433.8v-4.2M175.3 316.4v4.2M189.1 433.8v-4.2M189.1 316.4v4.2" stroke="#000" stroke-width=".95" fill="none"/>
<path d="M23.5 433.8h5.5M189.1 433.8h-5.5M23.5 410.3h5.5M189.1 410.3h-5.5M23.5 386.8h5.5M189.1 386.8h-5.5M23.5 363.4h5.5M189.1 363.4h-5.5M23.5 339.9h5.5M189.1 339.9h-5.5M23.5 316.4h5.5M189.1 316.4h-5.5" stroke="#000" stroke-width="1.35" fill="none"/>
<rect x="23.5" y="315.9" width="165.6" height="117.9" fill="none" stroke="#000" stroke-width="1.2"/>
<path d="M23.5 433.8H189.1V316.4" fill="none" stroke="#000" stroke-width="1.5" stroke-linecap="square"/>
<path class="g" d="M23.5 410.3H189.1M23.5 386.8H189.1M23.5 363.4H189.1M23.5 339.9H189.1M23.5 316.9H189.1M51.1 316.4V433.8M78.7 316.4V433.8M106.3 316.4V433.8M133.9 316.4V433.8M161.5 316.4V433.8"/>
<g class="t" fill="#000" color="#000"><text x="18.9" y="436.7" text-anchor="end">2</text><text x="18.9" y="413.2" text-anchor="end">12</text><text x="18.9" y="389.7" text-anchor="end">22</text><text x="18.9" y="366.3" text-anchor="end">32</text><text x="18.9" y="342.8" text-anchor="end">42</text><text x="18.9" y="319.3" text-anchor="end">52</text><text x="23.5" y="444.6" text-anchor="middle">0</text><text x="51.1" y="444.6" text-anchor="middle">4</text><text x="78.7" y="444.6" text-anchor="middle">8</text><text x="106.3" y="444.6" text-anchor="middle">12</text><text x="133.9" y="444.6" text-anchor="middle">16</text><text x="161.5" y="444.6" text-anchor="middle">20</text><text x="189.1" y="444.6" text-anchor="middle">24</text></g>
<clipPath id="c18"><rect x="13.5" y="447.8" width="185.6" height="11.1"/></clipPath><text class="n" clip-path="url(#c18)" x="106.3" y="458.7" fill="#000" stroke="#000">Airport, Sha Chau</text>
</g>
<g>
<clipPath id="c19"><rect x="216.5" y="316.4" width="165.6" height="117.4"/></clipPath>
<g clip-path="url(#c19)" fill="none" stroke-linejoin="round">
<polyline stroke="#00ffff" stroke-width="1.0" marker-start="url(#mc)" marker-mid="url(#mc)" marker-end="url(#mc)" points="216.5,401.9 223.4,399.3 230.3,398.1 237.2,393.9 244.1,394.8 251,396.9 257.9,394.8 264.8,393.2 271.7,393.9 278.6,395.8 285.5,394.8 292.4,395.8 299.3,381.4 306.2,386.8 313.1,385.9 320,397.4 326.9,408.2 333.8,404.7 340.7,407.7 347.6,393.4 354.5,392.7 361.4,393.2 368.3,387.3 375.2,394.8 382.1,393.9"/>
<polyline stroke="#00ff00" stroke-width="1.0" marker-start="url(#mg)" marker-mid="url(#mg)" marker-end="url(#mg)" points="216.5,394.6 223.4,396.2 230.3,393.4 237.2,398.1 244.1,400.2 251,402.8 257.9,399.3 264.8,393.9 271.7,394.8 278.6,398.8 285.5,394.8 292.4,397.4 299.3,394.8 306.2,390.4 313.1,388.7 320,398.1 326.9,394.6 333.8,396.7 340.7,391.3 347.6,401.2 354.5,399.8 361.4,393.9 368.3,401.2 375.2,402.8 382.1,407.7"/>
<polyline stroke="#0000ff" stroke-width="1.0" marker-start="url(#mb)" marker-mid="url(#mb)" marker-end="url(#mb)" points="216.5,407.7 223.4,403.3 230.3,408.2 237.2,411.7 244.1,407.7 251,411.3 257.9,412.9 264.8,405.9 271.7,402.8 278.6,401.2 285.5,397.4 292.4,397.4 299.3,398.1 306.2,393.2 313.1,393.9 320,398.1 326.9,407 333.8,409.1 340.7,404 347.6,405.9 354.5,407.3 361.4,412.2 368.3,415.3 375.2,405.2 382.1,404.7"/>
<polyline stroke="#ff0000" stroke-width="1.0" marker-start="url(#mr)" marker-mid="url(#mr)" marker-end="url(#mr)" points="216.5,404.7 223.4,406.3 230.3,404.7 237.2,411.7 244.1,414.3 251,407.3 257.9,415.3 264.8,419.7 271.7,406.3 278.6,405.2 285.5,398.1 292.4,401.9 299.3,402.3 306.2,396.7 313.1,398.3 320,409.6 326.9,410.8 333.8,412.9 340.7,417.1 347.6,409.9 354.5,407 361.4,398.1 368.3,405.6 375.2,402.8 382.1,407.7"/>
</g>
<path d="M216.5 422.1h4.3M382.1 422.1h-4.3M216.5 398.6h4.3M382.1 398.6h-4.3M216.5 375.1h4.3M382.1 375.1h-4.3M216.5 351.6h4.3M382.1 351.6h-4.3M216.5 328.1h4.3M382.1 328.1h-4.3M216.5 433.8v-4.2M216.5 316.4v4.2M230.3 433.8v-4.2M230.3 316.4v4.2M244.1 433.8v-4.2M244.1 316.4v4.2M257.9 433.8v-4.2M257.9 316.4v4.2M271.7 433.8v-4.2M271.7 316.4v4.2M285.5 433.8v-4.2M285.5 316.4v4.2M299.3 433.8v-4.2M299.3 316.4v4.2M313.1 433.8v-4.2M313.1 316.4v4.2M326.9 433.8v-4.2M326.9 316.4v4.2M340.7 433.8v-4.2M340.7 316.4v4.2M354.5 433.8v-4.2M354.5 316.4v4.2M368.3 433.8v-4.2M368.3 316.4v4.2M382.1 433.8v-4.2M382.1 316.4v4.2" stroke="#000" stroke-width=".95" fill="none"/>
<path d="M216.5 433.8h5.5M382.1 433.8h-5.5M216.5 410.3h5.5M382.1 410.3h-5.5M216.5 386.8h5.5M382.1 386.8h-5.5M216.5 363.4h5.5M382.1 363.4h-5.5M216.5 339.9h5.5M382.1 339.9h-5.5M216.5 316.4h5.5M382.1 316.4h-5.5" stroke="#000" stroke-width="1.35" fill="none"/>
<rect x="216.5" y="315.9" width="165.6" height="117.9" fill="none" stroke="#000" stroke-width="1.2"/>
<path d="M216.5 433.8H382.1V316.4" fill="none" stroke="#000" stroke-width="1.5" stroke-linecap="square"/>
<path class="g" d="M216.5 410.3H382.1M216.5 386.8H382.1M216.5 363.4H382.1M216.5 339.9H382.1M216.5 316.9H382.1M244.1 316.4V433.8M271.7 316.4V433.8M299.3 316.4V433.8M326.9 316.4V433.8M354.5 316.4V433.8"/>
<g class="t" fill="#000" color="#000"><text x="211.9" y="436.7" text-anchor="end">2</text><text x="211.9" y="413.2" text-anchor="end">12</text><text x="211.9" y="389.7" text-anchor="end">22</text><text x="211.9" y="366.3" text-anchor="end">32</text><text x="211.9" y="342.8" text-anchor="end">42</text><text x="211.9" y="319.3" text-anchor="end">52</text><text x="216.5" y="444.6" text-anchor="middle">0</text><text x="244.1" y="444.6" text-anchor="middle">4</text><text x="271.7" y="444.6" text-anchor="middle">8</text><text x="299.3" y="444.6" text-anchor="middle">12</text><text x="326.9" y="444.6" text-anchor="middle">16</text><text x="354.5" y="444.6" text-anchor="middle">20</text><text x="382.1" y="444.6" text-anchor="middle">24</text></g>
<clipPath id="c20"><rect x="206.5" y="447.8" width="185.6" height="11.1"/></clipPath><text class="n" clip-path="url(#c20)" x="299.3" y="458.7" fill="#000" stroke="#000">Kwai Chung</text>
</g>
<g>
<clipPath id="c21"><rect x="409.5" y="316.4" width="165.6" height="117.4"/></clipPath>
<g clip-path="url(#c21)" fill="none" stroke-linejoin="round">
<polyline stroke="#00ffff" stroke-width="1.0" marker-start="url(#mc)" marker-mid="url(#mc)" marker-end="url(#mc)" points="409.5,394.6 416.4,397.4 423.3,396.7 430.2,399.3 437.1,391.8 444,391.8 450.9,391.8 457.8,395.1 464.7,390.8 471.6,389.2 478.5,385.7 485.4,382.1 492.3,382.1 499.2,373.2 506.1,377.9 513,385.7 519.9,384.7 526.8,391.5 533.7,388.2 540.6,382.1 547.5,367.4 554.4,371.8 561.3,383.8 568.2,390.1 575.1,391.5"/>
<polyline stroke="#00ff00" stroke-width="1.0" marker-start="url(#mg)" marker-mid="url(#mg)" marker-end="url(#mg)" points="409.5,391.8 416.4,392.7 423.3,399.3 430.2,402.6 437.1,402.6 444,404.7 450.9,403.3 457.8,401.6 464.7,401.2 471.6,393.6 478.5,389.2 485.4,387.3 519.9,402.6 526.8,398.6 533.7,399.3 540.6,404.7 547.5,398.6 554.4,393.2 561.3,400.7 568.2,406.1 575.1,408.7"/>
<polyline stroke="#0000ff" stroke-width="1.0" marker-start="url(#mb)" marker-mid="url(#mb)" marker-end="url(#mb)" points="409.5,408.2 416.4,412.2 423.3,423 430.2,423.5 437.1,427.7 444,428.4 450.9,422.1 457.8,424.6 464.7,418.1 471.6,412.2 478.5,415.7 485.4,410.6 492.3,406.1 499.2,398.6 506.1,398.6 513,392.7 519.9,399 526.8,399.3 533.7,411 540.6,414.5 547.5,401.2 554.4,395.1 561.3,400.7 568.2,411 575.1,411.7"/>
<polyline stroke="#ff0000" stroke-width="1.0" marker-start="url(#mr)" marker-mid="url(#mr)" marker-end="url(#mr)" points="409.5,410.6 416.4,415.7 423.3,424.6 430.2,425.6 437.1,427.5 444,427.7 450.9,431.2 457.8,428.9 464.7,424.6 471.6,423.5 478.5,421.6 485.4,420.7 492.3,420.7 499.2,419.5 506.1,418.8 513,431.2 519.9,428.9 526.8,430.5 533.7,433.1 540.6,428.4 547.5,426.5 554.4,424.6 561.3,432.4 568.2,431 575.1,431.2"/>
</g>
<path d="M409.5 422.1h4.3M575.1 422.1h-4.3M409.5 398.6h4.3M575.1 398.6h-4.3M409.5 375.1h4.3M575.1 375.1h-4.3M409.5 351.6h4.3M575.1 351.6h-4.3M409.5 328.1h4.3M575.1 328.1h-4.3M409.5 433.8v-4.2M409.5 316.4v4.2M423.3 433.8v-4.2M423.3 316.4v4.2M437.1 433.8v-4.2M437.1 316.4v4.2M450.9 433.8v-4.2M450.9 316.4v4.2M464.7 433.8v-4.2M464.7 316.4v4.2M478.5 433.8v-4.2M478.5 316.4v4.2M492.3 433.8v-4.2M492.3 316.4v4.2M506.1 433.8v-4.2M506.1 316.4v4.2M519.9 433.8v-4.2M519.9 316.4v4.2M533.7 433.8v-4.2M533.7 316.4v4.2M547.5 433.8v-4.2M547.5 316.4v4.2M561.3 433.8v-4.2M561.3 316.4v4.2M575.1 433.8v-4.2M575.1 316.4v4.2" stroke="#ff0000" stroke-width=".95" fill="none"/>
<path d="M409.5 433.8h5.5M575.1 433.8h-5.5M409.5 410.3h5.5M575.1 410.3h-5.5M409.5 386.8h5.5M575.1 386.8h-5.5M409.5 363.4h5.5M575.1 363.4h-5.5M409.5 339.9h5.5M575.1 339.9h-5.5M409.5 316.4h5.5M575.1 316.4h-5.5" stroke="#ff0000" stroke-width="1.35" fill="none"/>
<rect x="409.5" y="315.9" width="165.6" height="117.9" fill="none" stroke="#ff0000" stroke-width="1.05"/>
<path d="M409.5 433.8H575.1V316.4" fill="none" stroke="#ff0000" stroke-width="1.2" stroke-linecap="square"/>
<path class="g" d="M409.5 410.3H575.1M409.5 386.8H575.1M409.5 363.4H575.1M409.5 339.9H575.1M409.5 316.9H575.1M437.1 316.4V433.8M464.7 316.4V433.8M492.3 316.4V433.8M519.9 316.4V433.8M547.5 316.4V433.8"/>
<g class="t" fill="#ff0000" color="#ff0000"><text x="404.9" y="436.7" text-anchor="end">2</text><text x="404.9" y="413.2" text-anchor="end">12</text><text x="404.9" y="389.7" text-anchor="end">22</text><text x="404.9" y="366.3" text-anchor="end">32</text><text x="404.9" y="342.8" text-anchor="end">42</text><text x="404.9" y="319.3" text-anchor="end">52</text><text x="409.5" y="444.6" text-anchor="middle">0</text><text x="437.1" y="444.6" text-anchor="middle">4</text><text x="464.7" y="444.6" text-anchor="middle">8</text><text x="492.3" y="444.6" text-anchor="middle">12</text><text x="519.9" y="444.6" text-anchor="middle">16</text><text x="547.5" y="444.6" text-anchor="middle">20</text><text x="575.1" y="444.6" text-anchor="middle">24</text></g>
<clipPath id="c22"><rect x="399.5" y="447.8" width="185.6" height="11.1"/></clipPath><text class="n" clip-path="url(#c22)" x="492.3" y="458.7" fill="#ff0000" stroke="#ff0000">Mong Kok</text>
</g>
<g>
<clipPath id="c23"><rect x="602.5" y="316.4" width="165.6" height="117.4"/></clipPath>
<g clip-path="url(#c23)" fill="none" stroke-linejoin="round">
<polyline stroke="#00ffff" stroke-width="1.0" marker-start="url(#mc)" marker-mid="url(#mc)" marker-end="url(#mc)" points="602.5,401.2 609.4,400.2 616.3,398.3 623.2,386.8 630.1,386.8 637,389.2 643.9,386.8 650.8,391.3 657.7,390.4 664.6,389.4 671.5,385.7 678.4,383.6 685.3,388.7 692.2,390.4 699.1,389.4 706,395.8 712.9,396.7 719.8,399.3 726.7,399.3 733.6,396.7 740.5,396.7 747.4,393.9 754.3,400.2 761.2,401.2 768.1,399.3"/>
<polyline stroke="#00ff00" stroke-width="1.0" marker-start="url(#mg)" marker-mid="url(#mg)" marker-end="url(#mg)" points="602.5,400.2 609.4,399.3 616.3,400.2 623.2,400.2 630.1,404.7 637,402.8 643.9,402.8 650.8,398.1 657.7,396.7 664.6,398.1 671.5,394.8 678.4,393.2 685.3,391.3 692.2,390.4 699.1,389.2 706,396.7 712.9,394.8 719.8,397.4 726.7,402.8 733.6,403.7 740.5,399.3 747.4,401.2 754.3,401.2 761.2,403.3 768.1,401.9"/>
<polyline stroke="#0000ff" stroke-width="1.0" marker-start="url(#mb)" marker-mid="url(#mb)" marker-end="url(#mb)" points="602.5,403.3 609.4,402.8 616.3,410.8 623.2,408.2 630.1,412.9 637,410.8 643.9,414.3 650.8,412.2 657.7,404.7 664.6,400.5 671.5,402.8 678.4,399.3 685.3,393.4 692.2,393.4 699.1,399.3 706,399 712.9,401.2 719.8,403.7 726.7,408.2 733.6,408.7 740.5,404.7 747.4,402.8 754.3,399.8 761.2,398.3 768.1,398.8"/>
<polyline stroke="#ff0000" stroke-width="1.0" marker-start="url(#mr)" marker-mid="url(#mr)" marker-end="url(#mr)" points="602.5,398.3 609.4,402.8 616.3,401.9 623.2,401.9 630.1,404.7 637,407.7 643.9,407.7 650.8,408.7 657.7,409.9 664.6,409.6 671.5,408.2 678.4,414.3 685.3,409.9 692.2,410.8 699.1,415.7 706,416.2 712.9,413.6 719.8,409.9 726.7,407.7 733.6,401.9 740.5,398.3 747.4,408.2 754.3,413.6 761.2,414.1 768.1,401.2"/>
</g>
<path d="M602.5 422.1h4.3M768.1 422.1h-4.3M602.5 398.6h4.3M768.1 398.6h-4.3M602.5 375.1h4.3M768.1 375.1h-4.3M602.5 351.6h4.3M768.1 351.6h-4.3M602.5 328.1h4.3M768.1 328.1h-4.3M602.5 433.8v-4.2M602.5 316.4v4.2M616.3 433.8v-4.2M616.3 316.4v4.2M630.1 433.8v-4.2M630.1 316.4v4.2M643.9 433.8v-4.2M643.9 316.4v4.2M657.7 433.8v-4.2M657.7 316.4v4.2M671.5 433.8v-4.2M671.5 316.4v4.2M685.3 433.8v-4.2M685.3 316.4v4.2M699.1 433.8v-4.2M699.1 316.4v4.2M712.9 433.8v-4.2M712.9 316.4v4.2M726.7 433.8v-4.2M726.7 316.4v4.2M740.5 433.8v-4.2M740.5 316.4v4.2M754.3 433.8v-4.2M754.3 316.4v4.2M768.1 433.8v-4.2M768.1 316.4v4.2" stroke="#000" stroke-width=".95" fill="none"/>
<path d="M602.5 433.8h5.5M768.1 433.8h-5.5M602.5 410.3h5.5M768.1 410.3h-5.5M602.5 386.8h5.5M768.1 386.8h-5.5M602.5 363.4h5.5M768.1 363.4h-5.5M602.5 339.9h5.5M768.1 339.9h-5.5M602.5 316.4h5.5M768.1 316.4h-5.5" stroke="#000" stroke-width="1.35" fill="none"/>
<rect x="602.5" y="315.9" width="165.6" height="117.9" fill="none" stroke="#000" stroke-width="1.2"/>
<path d="M602.5 433.8H768.1V316.4" fill="none" stroke="#000" stroke-width="1.5" stroke-linecap="square"/>
<path class="g" d="M602.5 410.3H768.1M602.5 386.8H768.1M602.5 363.4H768.1M602.5 339.9H768.1M602.5 316.9H768.1M630.1 316.4V433.8M657.7 316.4V433.8M685.3 316.4V433.8M712.9 316.4V433.8M740.5 316.4V433.8"/>
<g class="t" fill="#000" color="#000"><text x="597.9" y="436.7" text-anchor="end">2</text><text x="597.9" y="413.2" text-anchor="end">12</text><text x="597.9" y="389.7" text-anchor="end">22</text><text x="597.9" y="366.3" text-anchor="end">32</text><text x="597.9" y="342.8" text-anchor="end">42</text><text x="597.9" y="319.3" text-anchor="end">52</text><text x="602.5" y="444.6" text-anchor="middle">0</text><text x="630.1" y="444.6" text-anchor="middle">4</text><text x="657.7" y="444.6" text-anchor="middle">8</text><text x="685.3" y="444.6" text-anchor="middle">12</text><text x="712.9" y="444.6" text-anchor="middle">16</text><text x="740.5" y="444.6" text-anchor="middle">20</text><text x="768.1" y="444.6" text-anchor="middle">24</text></g>
<clipPath id="c24"><rect x="592.5" y="447.8" width="185.6" height="11.1"/></clipPath><text class="n" clip-path="url(#c24)" x="685.3" y="458.7" fill="#000" stroke="#000">Kwun Tong</text>
</g>
<g>
<clipPath id="c25"><rect x="795.5" y="316.4" width="165.6" height="117.4"/></clipPath>
<g clip-path="url(#c25)" fill="none" stroke-linejoin="round">
<polyline stroke="#00ffff" stroke-width="1.0" marker-start="url(#mc)" marker-mid="url(#mc)" marker-end="url(#mc)" points="795.5,393.2 802.4,404.7 809.3,393.9 816.2,390.4 823.1,400.2 830,399.3 836.9,395.8 843.8,393.9 850.7,397.4 857.6,398.3 864.5,387.8 871.4,390.4 878.3,393.9 885.2,400.2 892.1,390.4 899,393.9 905.9,399.3 912.8,403.7 919.7,401.9 926.6,401.9 933.5,402.8 940.4,402.8 947.3,401.2 954.2,402.8 961.1,400.2"/>
<polyline stroke="#00ff00" stroke-width="1.0" marker-start="url(#mg)" marker-mid="url(#mg)" marker-end="url(#mg)" points="795.5,399.3 802.4,390.4 809.3,399.3 816.2,409.9 823.1,404.7 830,399.8 836.9,401.9 843.8,403.7 850.7,404 857.6,400.2 864.5,401.9 871.4,403.3 878.3,397.4 885.2,393.9 892.1,396.7 899,389.2 905.9,396.2 912.8,396.9 919.7,407.3 926.6,409.9 933.5,405.2 940.4,401.6 947.3,404 954.2,401.2 961.1,404.7"/>
<polyline stroke="#0000ff" stroke-width="1.0" marker-start="url(#mb)" marker-mid="url(#mb)" marker-end="url(#mb)" points="795.5,401.2 802.4,404.7 809.3,405.9 816.2,409.1 823.1,409.1 830,407 836.9,415.7 843.8,418.8 850.7,409.9 857.6,398.1 864.5,409.9 871.4,415.3 878.3,405.2 885.2,408.2 892.1,409.9 899,406.3 905.9,407.7 912.8,410.8 919.7,408.7 926.6,409.1 933.5,414.1 940.4,413.6 947.3,412.9 954.2,396.7 961.1,398.1"/>
<polyline stroke="#ff0000" stroke-width="1.0" marker-start="url(#mr)" marker-mid="url(#mr)" marker-end="url(#mr)" points="795.5,398.1 802.4,412.2 809.3,412.2 816.2,404.7 823.1,404 830,408.2 836.9,411.7 843.8,408.2 850.7,416.2 857.6,417.6 864.5,423.7 871.4,417.6 878.3,415.3 885.2,414.3 892.1,426.1 899,419.5 905.9,415.3 912.8,411.7 919.7,417.1 926.6,407.3 933.5,403.7 940.4,408.2 947.3,404 954.2,409.9 961.1,409.1"/>
</g>
<path d="M795.5 422.1h4.3M961.1 422.1h-4.3M795.5 398.6h4.3M961.1 398.6h-4.3M795.5 375.1h4.3M961.1 375.1h-4.3M795.5 351.6h4.3M961.1 351.6h-4.3M795.5 328.1h4.3M961.1 328.1h-4.3M795.5 433.8v-4.2M795.5 316.4v4.2M809.3 433.8v-4.2M809.3 316.4v4.2M823.1 433.8v-4.2M823.1 316.4v4.2M836.9 433.8v-4.2M836.9 316.4v4.2M850.7 433.8v-4.2M850.7 316.4v4.2M864.5 433.8v-4.2M864.5 316.4v4.2M878.3 433.8v-4.2M878.3 316.4v4.2M892.1 433.8v-4.2M892.1 316.4v4.2M905.9 433.8v-4.2M905.9 316.4v4.2M919.7 433.8v-4.2M919.7 316.4v4.2M933.5 433.8v-4.2M933.5 316.4v4.2M947.3 433.8v-4.2M947.3 316.4v4.2M961.1 433.8v-4.2M961.1 316.4v4.2" stroke="#000" stroke-width=".95" fill="none"/>
<path d="M795.5 433.8h5.5M961.1 433.8h-5.5M795.5 410.3h5.5M961.1 410.3h-5.5M795.5 386.8h5.5M961.1 386.8h-5.5M795.5 363.4h5.5M961.1 363.4h-5.5M795.5 339.9h5.5M961.1 339.9h-5.5M795.5 316.4h5.5M961.1 316.4h-5.5" stroke="#000" stroke-width="1.35" fill="none"/>
<rect x="795.5" y="315.9" width="165.6" height="117.9" fill="none" stroke="#000" stroke-width="1.2"/>
<path d="M795.5 433.8H961.1V316.4" fill="none" stroke="#000" stroke-width="1.5" stroke-linecap="square"/>
<path class="g" d="M795.5 410.3H961.1M795.5 386.8H961.1M795.5 363.4H961.1M795.5 339.9H961.1M795.5 316.9H961.1M823.1 316.4V433.8M850.7 316.4V433.8M878.3 316.4V433.8M905.9 316.4V433.8M933.5 316.4V433.8"/>
<g class="t" fill="#000" color="#000"><text x="790.9" y="436.7" text-anchor="end">2</text><text x="790.9" y="413.2" text-anchor="end">12</text><text x="790.9" y="389.7" text-anchor="end">22</text><text x="790.9" y="366.3" text-anchor="end">32</text><text x="790.9" y="342.8" text-anchor="end">42</text><text x="790.9" y="319.3" text-anchor="end">52</text><text x="795.5" y="444.6" text-anchor="middle">0</text><text x="823.1" y="444.6" text-anchor="middle">4</text><text x="850.7" y="444.6" text-anchor="middle">8</text><text x="878.3" y="444.6" text-anchor="middle">12</text><text x="905.9" y="444.6" text-anchor="middle">16</text><text x="933.5" y="444.6" text-anchor="middle">20</text><text x="961.1" y="444.6" text-anchor="middle">24</text></g>
<clipPath id="c26"><rect x="785.5" y="447.8" width="185.6" height="11.1"/></clipPath><text class="n" clip-path="url(#c26)" x="878.3" y="458.7" fill="#000" stroke="#000">Tseung Kwan O</text>
</g>
<g>
<clipPath id="c27"><rect x="23.5" y="464.4" width="165.6" height="117.4"/></clipPath>
<g clip-path="url(#c27)" fill="none" stroke-linejoin="round">
</g>
<path d="M23.5 570.1h4.3M189.1 570.1h-4.3M23.5 546.6h4.3M189.1 546.6h-4.3M23.5 523.1h4.3M189.1 523.1h-4.3M23.5 499.6h4.3M189.1 499.6h-4.3M23.5 476.1h4.3M189.1 476.1h-4.3M23.5 581.8v-4.2M23.5 464.4v4.2M37.3 581.8v-4.2M37.3 464.4v4.2M51.1 581.8v-4.2M51.1 464.4v4.2M64.9 581.8v-4.2M64.9 464.4v4.2M78.7 581.8v-4.2M78.7 464.4v4.2M92.5 581.8v-4.2M92.5 464.4v4.2M106.3 581.8v-4.2M106.3 464.4v4.2M120.1 581.8v-4.2M120.1 464.4v4.2M133.9 581.8v-4.2M133.9 464.4v4.2M147.7 581.8v-4.2M147.7 464.4v4.2M161.5 581.8v-4.2M161.5 464.4v4.2M175.3 581.8v-4.2M175.3 464.4v4.2M189.1 581.8v-4.2M189.1 464.4v4.2" stroke="#000" stroke-width=".95" fill="none"/>
<path d="M23.5 581.8h5.5M189.1 581.8h-5.5M23.5 558.3h5.5M189.1 558.3h-5.5M23.5 534.8h5.5M189.1 534.8h-5.5M23.5 511.4h5.5M189.1 511.4h-5.5M23.5 487.9h5.5M189.1 487.9h-5.5M23.5 464.4h5.5M189.1 464.4h-5.5" stroke="#000" stroke-width="1.35" fill="none"/>
<rect x="23.5" y="463.9" width="165.6" height="117.9" fill="none" stroke="#000" stroke-width="1.2"/>
<path d="M23.5 581.8H189.1V464.4" fill="none" stroke="#000" stroke-width="1.5" stroke-linecap="square"/>
<path class="g" d="M23.5 558.3H189.1M23.5 534.8H189.1M23.5 511.4H189.1M23.5 487.9H189.1M23.5 464.9H189.1M51.1 464.4V581.8M78.7 464.4V581.8M106.3 464.4V581.8M133.9 464.4V581.8M161.5 464.4V581.8"/>
<g class="t" fill="#000" color="#000"><text x="18.9" y="584.7" text-anchor="end">2</text><text x="18.9" y="561.2" text-anchor="end">12</text><text x="18.9" y="537.7" text-anchor="end">22</text><text x="18.9" y="514.3" text-anchor="end">32</text><text x="18.9" y="490.8" text-anchor="end">42</text><text x="18.9" y="467.3" text-anchor="end">52</text><text x="23.5" y="592.6" text-anchor="middle">0</text><text x="51.1" y="592.6" text-anchor="middle">4</text><text x="78.7" y="592.6" text-anchor="middle">8</text><text x="106.3" y="592.6" text-anchor="middle">12</text><text x="133.9" y="592.6" text-anchor="middle">16</text><text x="161.5" y="592.6" text-anchor="middle">20</text><text x="189.1" y="592.6" text-anchor="middle">24</text></g>
<clipPath id="c28"><rect x="13.5" y="595.8" width="185.6" height="11.1"/></clipPath><text class="n" clip-path="url(#c28)" x="106.3" y="606.7" fill="#000" stroke="#000">Airport, Pump House 1</text>
</g>
<g>
<clipPath id="c29"><rect x="216.5" y="464.4" width="165.6" height="117.4"/></clipPath>
<g clip-path="url(#c29)" fill="none" stroke-linejoin="round">
<polyline stroke="#00ffff" stroke-width="1.0" marker-start="url(#mc)" marker-mid="url(#mc)" marker-end="url(#mc)" points="216.5,541.2 223.4,545.4 230.3,544.7 237.2,543.8 244.1,537.2 251,541.2 257.9,541.9 264.8,541.2 271.7,541.9 278.6,544.2 285.5,537.4 292.4,532.7 299.3,533.9 306.2,539.3 313.1,537.4 320,537.2 326.9,543.8 333.8,551.7 340.7,547.3 347.6,546.3 354.5,542.6 361.4,540.2 368.3,540.7 375.2,541.2 382.1,543.8"/>
<polyline stroke="#00ff00" stroke-width="1.0" marker-start="url(#mg)" marker-mid="url(#mg)" marker-end="url(#mg)" points="216.5,542.8 223.4,542.6 230.3,541.2 237.2,546.1 244.1,549.9 251,553.9 257.9,551.3 264.8,547.8 271.7,551.7 278.6,547.3 285.5,542.8 292.4,541.4 299.3,544.2 306.2,544.7 313.1,541.9 320,542.8 326.9,542.6 333.8,545.4 340.7,545.4 347.6,548.2 354.5,545.4 361.4,542.8 368.3,542.6 375.2,545.4 382.1,547.8"/>
<polyline stroke="#0000ff" stroke-width="1.0" marker-start="url(#mb)" marker-mid="url(#mb)" marker-end="url(#mb)" points="216.5,548.2 223.4,544.9 230.3,549.9 237.2,556.2 244.1,557.1 251,550.8 257.9,557.9 264.8,566.1 271.7,557.1 278.6,550.8 285.5,549.2 292.4,546.1 299.3,542.8 306.2,540.2 313.1,542.8 320,542.8 326.9,545.4 333.8,546.1 340.7,553.9 347.6,560.2 354.5,549.9 361.4,539.3 368.3,543.8 375.2,549.2 382.1,552.7"/>
<polyline stroke="#ff0000" stroke-width="1.0" marker-start="url(#mr)" marker-mid="url(#mr)" marker-end="url(#mr)" points="216.5,552.7 223.4,552 230.3,555 237.2,555.7 244.1,548.2 251,549.9 257.9,557.9 264.8,557.9 271.7,560.9 278.6,555.7 285.5,549.2 292.4,552.7 299.3,556.7 306.2,551.7 313.1,558.6 320,566.3 326.9,567.5 333.8,574.8 340.7,574.1 347.6,567.5 354.5,569.6 361.4,567.7 368.3,562.8 375.2,564.7 382.1,559.3"/>
</g>
<path d="M216.5 570.1h4.3M382.1 570.1h-4.3M216.5 546.6h4.3M382.1 546.6h-4.3M216.5 523.1h4.3M382.1 523.1h-4.3M216.5 499.6h4.3M382.1 499.6h-4.3M216.5 476.1h4.3M382.1 476.1h-4.3M216.5 581.8v-4.2M216.5 464.4v4.2M230.3 581.8v-4.2M230.3 464.4v4.2M244.1 581.8v-4.2M244.1 464.4v4.2M257.9 581.8v-4.2M257.9 464.4v4.2M271.7 581.8v-4.2M271.7 464.4v4.2M285.5 581.8v-4.2M285.5 464.4v4.2M299.3 581.8v-4.2M299.3 464.4v4.2M313.1 581.8v-4.2M313.1 464.4v4.2M326.9 581.8v-4.2M326.9 464.4v4.2M340.7 581.8v-4.2M340.7 464.4v4.2M354.5 581.8v-4.2M354.5 464.4v4.2M368.3 581.8v-4.2M368.3 464.4v4.2M382.1 581.8v-4.2M382.1 464.4v4.2" stroke="#000" stroke-width=".95" fill="none"/>
<path d="M216.5 581.8h5.5M382.1 581.8h-5.5M216.5 558.3h5.5M382.1 558.3h-5.5M216.5 534.8h5.5M382.1 534.8h-5.5M216.5 511.4h5.5M382.1 511.4h-5.5M216.5 487.9h5.5M382.1 487.9h-5.5M216.5 464.4h5.5M382.1 464.4h-5.5" stroke="#000" stroke-width="1.35" fill="none"/>
<rect x="216.5" y="463.9" width="165.6" height="117.9" fill="none" stroke="#000" stroke-width="1.2"/>
<path d="M216.5 581.8H382.1V464.4" fill="none" stroke="#000" stroke-width="1.5" stroke-linecap="square"/>
<path class="g" d="M216.5 558.3H382.1M216.5 534.8H382.1M216.5 511.4H382.1M216.5 487.9H382.1M216.5 464.9H382.1M244.1 464.4V581.8M271.7 464.4V581.8M299.3 464.4V581.8M326.9 464.4V581.8M354.5 464.4V581.8"/>
<g class="t" fill="#000" color="#000"><text x="211.9" y="584.7" text-anchor="end">2</text><text x="211.9" y="561.2" text-anchor="end">12</text><text x="211.9" y="537.7" text-anchor="end">22</text><text x="211.9" y="514.3" text-anchor="end">32</text><text x="211.9" y="490.8" text-anchor="end">42</text><text x="211.9" y="467.3" text-anchor="end">52</text><text x="216.5" y="592.6" text-anchor="middle">0</text><text x="244.1" y="592.6" text-anchor="middle">4</text><text x="271.7" y="592.6" text-anchor="middle">8</text><text x="299.3" y="592.6" text-anchor="middle">12</text><text x="326.9" y="592.6" text-anchor="middle">16</text><text x="354.5" y="592.6" text-anchor="middle">20</text><text x="382.1" y="592.6" text-anchor="middle">24</text></g>
<clipPath id="c30"><rect x="206.5" y="595.8" width="185.6" height="11.1"/></clipPath><text class="n" clip-path="url(#c30)" x="299.3" y="606.7" fill="#000" stroke="#000">Central/Western</text>
</g>
<g>
<clipPath id="c31"><rect x="409.5" y="464.4" width="165.6" height="117.4"/></clipPath>
<g clip-path="url(#c31)" fill="none" stroke-linejoin="round">
<polyline stroke="#00ffff" stroke-width="1.0" marker-start="url(#mc)" marker-mid="url(#mc)" marker-end="url(#mc)" points="409.5,505.7 416.4,519.8 423.3,521.2 430.2,523.6 437.1,509.7 444,513.7 450.9,536.7 457.8,538.6 464.7,538.8 471.6,537.7 478.5,539.5 485.4,535.1 492.3,535.1 499.2,533.2 506.1,543.5 513,535.1 519.9,537.7 526.8,543.1 533.7,539.5 540.6,533.7 547.5,536.7 554.4,536 561.3,538.8 568.2,538.6 575.1,520.8"/>
<polyline stroke="#00ff00" stroke-width="1.0" marker-start="url(#mg)" marker-mid="url(#mg)" marker-end="url(#mg)" points="409.5,537.2 416.4,536.5 423.3,537.2 430.2,538.1 437.1,538.8 444,540 450.9,549.6 457.8,540 464.7,542.6 471.6,540.2 478.5,534.1 485.4,528.3 492.3,530.1 499.2,529.4 506.1,530.6 513,529.7 519.9,523.6 526.8,524 533.7,539.5 540.6,541.2 547.5,536.5 554.4,537.7 561.3,534.1 568.2,537.7 575.1,523.6"/>
<polyline stroke="#0000ff" stroke-width="1.0" marker-start="url(#mb)" marker-mid="url(#mb)" marker-end="url(#mb)" points="409.5,522.2 416.4,528.5 423.3,531.6 430.2,526.2 437.1,532.3 444,510.7 450.9,534.1 457.8,552.9 464.7,551 471.6,539.5 478.5,543.1 485.4,549.2 492.3,538.8 499.2,521.2 506.1,532.3 513,534.1 519.9,522.2 526.8,533.2 533.7,538.8 540.6,539.5 547.5,545.6 554.4,544.2 561.3,546.1 568.2,542.1 575.1,518.2"/>
<polyline stroke="#ff0000" stroke-width="1.0" marker-start="url(#mr)" marker-mid="url(#mr)" marker-end="url(#mr)" points="409.5,518.2 416.4,517.2 423.3,537.7 430.2,523.6 437.1,464.9 444,464.2 450.9,540.2 457.8,553.6 464.7,547.5 471.6,542.1 478.5,543.5 506.1,535.1 513,549.2 519.9,550.1 526.8,552.4 533.7,553.6 540.6,540 547.5,536 554.4,535.1 561.3,529.4 568.2,528.3 575.1,509.2"/>
</g>
<path d="M409.5 570.1h4.3M575.1 570.1h-4.3M409.5 546.6h4.3M575.1 546.6h-4.3M409.5 523.1h4.3M575.1 523.1h-4.3M409.5 499.6h4.3M575.1 499.6h-4.3M409.5 476.1h4.3M575.1 476.1h-4.3M409.5 581.8v-4.2M409.5 464.4v4.2M423.3 581.8v-4.2M423.3 464.4v4.2M437.1 581.8v-4.2M437.1 464.4v4.2M450.9 581.8v-4.2M450.9 464.4v4.2M464.7 581.8v-4.2M464.7 464.4v4.2M478.5 581.8v-4.2M478.5 464.4v4.2M492.3 581.8v-4.2M492.3 464.4v4.2M506.1 581.8v-4.2M506.1 464.4v4.2M519.9 581.8v-4.2M519.9 464.4v4.2M533.7 581.8v-4.2M533.7 464.4v4.2M547.5 581.8v-4.2M547.5 464.4v4.2M561.3 581.8v-4.2M561.3 464.4v4.2M575.1 581.8v-4.2M575.1 464.4v4.2" stroke="#ff0000" stroke-width=".95" fill="none"/>
<path d="M409.5 581.8h5.5M575.1 581.8h-5.5M409.5 558.3h5.5M575.1 558.3h-5.5M409.5 534.8h5.5M575.1 534.8h-5.5M409.5 511.4h5.5M575.1 511.4h-5.5M409.5 487.9h5.5M575.1 487.9h-5.5M409.5 464.4h5.5M575.1 464.4h-5.5" stroke="#ff0000" stroke-width="1.35" fill="none"/>
<rect x="409.5" y="463.9" width="165.6" height="117.9" fill="none" stroke="#ff0000" stroke-width="1.05"/>
<path d="M409.5 581.8H575.1V464.4" fill="none" stroke="#ff0000" stroke-width="1.2" stroke-linecap="square"/>
<path class="g" d="M409.5 558.3H575.1M409.5 534.8H575.1M409.5 511.4H575.1M409.5 487.9H575.1M409.5 464.9H575.1M437.1 464.4V581.8M464.7 464.4V581.8M492.3 464.4V581.8M519.9 464.4V581.8M547.5 464.4V581.8"/>
<g class="t" fill="#ff0000" color="#ff0000"><text x="404.9" y="584.7" text-anchor="end">2</text><text x="404.9" y="561.2" text-anchor="end">12</text><text x="404.9" y="537.7" text-anchor="end">22</text><text x="404.9" y="514.3" text-anchor="end">32</text><text x="404.9" y="490.8" text-anchor="end">42</text><text x="404.9" y="467.3" text-anchor="end">52</text><text x="409.5" y="592.6" text-anchor="middle">0</text><text x="437.1" y="592.6" text-anchor="middle">4</text><text x="464.7" y="592.6" text-anchor="middle">8</text><text x="492.3" y="592.6" text-anchor="middle">12</text><text x="519.9" y="592.6" text-anchor="middle">16</text><text x="547.5" y="592.6" text-anchor="middle">20</text><text x="575.1" y="592.6" text-anchor="middle">24</text></g>
<clipPath id="c32"><rect x="399.5" y="595.8" width="185.6" height="11.1"/></clipPath><text class="n" clip-path="url(#c32)" x="492.3" y="606.7" fill="#ff0000" stroke="#ff0000">Central</text>
</g>
<g>
<clipPath id="c33"><rect x="602.5" y="464.4" width="165.6" height="117.4"/></clipPath>
<g clip-path="url(#c33)" fill="none" stroke-linejoin="round">
<polyline stroke="#00ffff" stroke-width="1.0" marker-start="url(#mc)" marker-mid="url(#mc)" marker-end="url(#mc)" points="602.5,532.3 609.4,535.3 616.3,544.7 623.2,534.6 630.1,536 637,539.5 643.9,540.2 650.8,540.2 657.7,538.1 664.6,528.7 671.5,525.2 678.4,531.6 685.3,528.7 692.2,515.1 699.1,526.2 706,536.7 712.9,525.2 719.8,527.1 726.7,526.2 733.6,521.7 740.5,524.3 747.4,521.2 754.3,527.1 761.2,535.3 768.1,541.2"/>
<polyline stroke="#00ff00" stroke-width="1.0" marker-start="url(#mg)" marker-mid="url(#mg)" marker-end="url(#mg)" points="602.5,541.2 609.4,535.1 616.3,536.5 623.2,547.5 630.1,553.6 637,555.5 643.9,552 650.8,542.1 657.7,534.6 664.6,536 671.5,540 678.4,526.4 685.3,528.3 692.2,535.3 699.1,534.1 706,530.6 712.9,520.8 719.8,513.7 726.7,540.2 733.6,536.7 740.5,527.1 747.4,522.6 754.3,532.3 761.2,536.7 768.1,532.3"/>
<polyline stroke="#0000ff" stroke-width="1.0" marker-start="url(#mb)" marker-mid="url(#mb)" marker-end="url(#mb)" points="602.5,532.3 609.4,541.2 616.3,551 623.2,551 630.1,555.5 637,558.1 643.9,556.7 650.8,551.3 657.7,543.1 664.6,533.2 671.5,544.2 678.4,549.6 685.3,528.7 692.2,519.3 699.1,513.2 706,513.2 712.9,532.3 719.8,532.3 726.7,540 733.6,542.6 740.5,527.1 747.4,519.6 754.3,541.2 761.2,547.5 768.1,543.5"/>
<polyline stroke="#ff0000" stroke-width="1.0" marker-start="url(#mr)" marker-mid="url(#mr)" marker-end="url(#mr)" points="602.5,543.1 609.4,529.7 616.3,530.6 623.2,540 630.1,554.6 637,567.5 643.9,556.7 650.8,542.1 657.7,552 664.6,560.9 671.5,550.1 678.4,550.1 685.3,551.5 692.2,551 699.1,548.5 706,544.7 712.9,551 719.8,536.5 726.7,542.1 733.6,546.1 740.5,537.4 747.4,536.5 754.3,551.3 761.2,541.2 768.1,533.2"/>
</g>
<path d="M602.5 570.1h4.3M768.1 570.1h-4.3M602.5 546.6h4.3M768.1 546.6h-4.3M602.5 523.1h4.3M768.1 523.1h-4.3M602.5 499.6h4.3M768.1 499.6h-4.3M602.5 476.1h4.3M768.1 476.1h-4.3M602.5 581.8v-4.2M602.5 464.4v4.2M616.3 581.8v-4.2M616.3 464.4v4.2M630.1 581.8v-4.2M630.1 464.4v4.2M643.9 581.8v-4.2M643.9 464.4v4.2M657.7 581.8v-4.2M657.7 464.4v4.2M671.5 581.8v-4.2M671.5 464.4v4.2M685.3 581.8v-4.2M685.3 464.4v4.2M699.1 581.8v-4.2M699.1 464.4v4.2M712.9 581.8v-4.2M712.9 464.4v4.2M726.7 581.8v-4.2M726.7 464.4v4.2M740.5 581.8v-4.2M740.5 464.4v4.2M754.3 581.8v-4.2M754.3 464.4v4.2M768.1 581.8v-4.2M768.1 464.4v4.2" stroke="#ff0000" stroke-width=".95" fill="none"/>
<path d="M602.5 581.8h5.5M768.1 581.8h-5.5M602.5 558.3h5.5M768.1 558.3h-5.5M602.5 534.8h5.5M768.1 534.8h-5.5M602.5 511.4h5.5M768.1 511.4h-5.5M602.5 487.9h5.5M768.1 487.9h-5.5M602.5 464.4h5.5M768.1 464.4h-5.5" stroke="#ff0000" stroke-width="1.35" fill="none"/>
<rect x="602.5" y="463.9" width="165.6" height="117.9" fill="none" stroke="#ff0000" stroke-width="1.05"/>
<path d="M602.5 581.8H768.1V464.4" fill="none" stroke="#ff0000" stroke-width="1.2" stroke-linecap="square"/>
<path class="g" d="M602.5 558.3H768.1M602.5 534.8H768.1M602.5 511.4H768.1M602.5 487.9H768.1M602.5 464.9H768.1M630.1 464.4V581.8M657.7 464.4V581.8M685.3 464.4V581.8M712.9 464.4V581.8M740.5 464.4V581.8"/>
<g class="t" fill="#ff0000" color="#ff0000"><text x="597.9" y="584.7" text-anchor="end">2</text><text x="597.9" y="561.2" text-anchor="end">12</text><text x="597.9" y="537.7" text-anchor="end">22</text><text x="597.9" y="514.3" text-anchor="end">32</text><text x="597.9" y="490.8" text-anchor="end">42</text><text x="597.9" y="467.3" text-anchor="end">52</text><text x="602.5" y="592.6" text-anchor="middle">0</text><text x="630.1" y="592.6" text-anchor="middle">4</text><text x="657.7" y="592.6" text-anchor="middle">8</text><text x="685.3" y="592.6" text-anchor="middle">12</text><text x="712.9" y="592.6" text-anchor="middle">16</text><text x="740.5" y="592.6" text-anchor="middle">20</text><text x="768.1" y="592.6" text-anchor="middle">24</text></g>
<clipPath id="c34"><rect x="592.5" y="595.8" width="185.6" height="11.1"/></clipPath><text class="n" clip-path="url(#c34)" x="685.3" y="606.7" fill="#ff0000" stroke="#ff0000">Causeway Bay</text>
</g>
<g>
<clipPath id="c35"><rect x="795.5" y="464.4" width="165.6" height="117.4"/></clipPath>
<g clip-path="url(#c35)" fill="none" stroke-linejoin="round">
<polyline stroke="#00ffff" stroke-width="1.0" marker-start="url(#mc)" marker-mid="url(#mc)" marker-end="url(#mc)" points="795.5,543.8 802.4,547.3 809.3,548.2 816.2,542.8 823.1,544.7 830,541.9 836.9,546.1 843.8,545.4 850.7,541.4 857.6,540.2 864.5,542.8 871.4,541.9 878.3,539.3 885.2,536.7 892.1,534.8 899,540.2 905.9,541.9 912.8,541.9 919.7,541.2 926.6,541.9 933.5,548.5 940.4,544.7 947.3,549.2 954.2,542.8 961.1,546.3"/>
<polyline stroke="#00ff00" stroke-width="1.0" marker-start="url(#mg)" marker-mid="url(#mg)" marker-end="url(#mg)" points="795.5,547.3 802.4,553.6 809.3,547.3 816.2,541.2 823.1,555.3 830,554.3 836.9,551.7 843.8,546.1 850.7,547.3 857.6,546.1 864.5,542.8 871.4,543.8 878.3,547.8 885.2,546.1 892.1,544.9 899,537.4 905.9,532.3 912.8,533.7 919.7,555.3 926.6,551.7 933.5,553.6 940.4,555 947.3,552.7 954.2,552.7 961.1,550.8"/>
<polyline stroke="#0000ff" stroke-width="1.0" marker-start="url(#mb)" marker-mid="url(#mb)" marker-end="url(#mb)" points="795.5,549.9 802.4,547.3 809.3,547.3 816.2,559.7 823.1,557.9 830,555.3 836.9,563.3 843.8,557.1 850.7,549.2 857.6,557.1 864.5,555.7 871.4,549.2 878.3,539.5 885.2,546.1 892.1,542.8 899,547.3 905.9,549.2 912.8,546.8 919.7,558.8 926.6,559.3 933.5,559.7 940.4,544.7 947.3,549.2 954.2,546.1 961.1,546.3"/>
<polyline stroke="#ff0000" stroke-width="1.0" marker-start="url(#mr)" marker-mid="url(#mr)" marker-end="url(#mr)" points="795.5,546.3 802.4,549.2 809.3,556.2 816.2,557.6 823.1,556.2 830,555.7 836.9,561.6 843.8,557.9 850.7,560.9 857.6,557.9 864.5,556.2 871.4,557.6 878.3,559.7 885.2,562.3 892.1,558.8 899,557.1 905.9,570.5 912.8,562.1 919.7,569.6 926.6,574.8 933.5,578.7 940.4,574.8 947.3,573.1 954.2,573.3 961.1,565.1"/>
</g>
<path d="M795.5 570.1h4.3M961.1 570.1h-4.3M795.5 546.6h4.3M961.1 546.6h-4.3M795.5 523.1h4.3M961.1 523.1h-4.3M795.5 499.6h4.3M961.1 499.6h-4.3M795.5 476.1h4.3M961.1 476.1h-4.3M795.5 581.8v-4.2M795.5 464.4v4.2M809.3 581.8v-4.2M809.3 464.4v4.2M823.1 581.8v-4.2M823.1 464.4v4.2M836.9 581.8v-4.2M836.9 464.4v4.2M850.7 581.8v-4.2M850.7 464.4v4.2M864.5 581.8v-4.2M864.5 464.4v4.2M878.3 581.8v-4.2M878.3 464.4v4.2M892.1 581.8v-4.2M892.1 464.4v4.2M905.9 581.8v-4.2M905.9 464.4v4.2M919.7 581.8v-4.2M919.7 464.4v4.2M933.5 581.8v-4.2M933.5 464.4v4.2M947.3 581.8v-4.2M947.3 464.4v4.2M961.1 581.8v-4.2M961.1 464.4v4.2" stroke="#000" stroke-width=".95" fill="none"/>
<path d="M795.5 581.8h5.5M961.1 581.8h-5.5M795.5 558.3h5.5M961.1 558.3h-5.5M795.5 534.8h5.5M961.1 534.8h-5.5M795.5 511.4h5.5M961.1 511.4h-5.5M795.5 487.9h5.5M961.1 487.9h-5.5M795.5 464.4h5.5M961.1 464.4h-5.5" stroke="#000" stroke-width="1.35" fill="none"/>
<rect x="795.5" y="463.9" width="165.6" height="117.9" fill="none" stroke="#000" stroke-width="1.2"/>
<path d="M795.5 581.8H961.1V464.4" fill="none" stroke="#000" stroke-width="1.5" stroke-linecap="square"/>
<path class="g" d="M795.5 558.3H961.1M795.5 534.8H961.1M795.5 511.4H961.1M795.5 487.9H961.1M795.5 464.9H961.1M823.1 464.4V581.8M850.7 464.4V581.8M878.3 464.4V581.8M905.9 464.4V581.8M933.5 464.4V581.8"/>
<g class="t" fill="#000" color="#000"><text x="790.9" y="584.7" text-anchor="end">2</text><text x="790.9" y="561.2" text-anchor="end">12</text><text x="790.9" y="537.7" text-anchor="end">22</text><text x="790.9" y="514.3" text-anchor="end">32</text><text x="790.9" y="490.8" text-anchor="end">42</text><text x="790.9" y="467.3" text-anchor="end">52</text><text x="795.5" y="592.6" text-anchor="middle">0</text><text x="823.1" y="592.6" text-anchor="middle">4</text><text x="850.7" y="592.6" text-anchor="middle">8</text><text x="878.3" y="592.6" text-anchor="middle">12</text><text x="905.9" y="592.6" text-anchor="middle">16</text><text x="933.5" y="592.6" text-anchor="middle">20</text><text x="961.1" y="592.6" text-anchor="middle">24</text></g>
<clipPath id="c36"><rect x="785.5" y="595.8" width="185.6" height="11.1"/></clipPath><text class="n" clip-path="url(#c36)" x="878.3" y="606.7" fill="#000" stroke="#000">Eastern</text>
</g>
<g>
<clipPath id="c37"><rect x="23.5" y="612.4" width="165.6" height="117.4"/></clipPath>
<g clip-path="url(#c37)" fill="none" stroke-linejoin="round">
<polyline stroke="#00ffff" stroke-width="1.0" marker-start="url(#mc)" marker-mid="url(#mc)" marker-end="url(#mc)" points="23.5,697.2 30.4,696.2 37.3,701.6 44.2,695.3 51.1,688.7 58,688.7 64.9,695.3 71.8,698.8 78.7,697.2 85.6,695.3 92.5,686.4 99.4,688.2 106.3,691.8 113.2,698.8 120.1,696.2 127,693.4 133.9,693.4 182.2,696.5 189.1,697.2"/>
<polyline stroke="#00ff00" stroke-width="1.0" marker-start="url(#mg)" marker-mid="url(#mg)" marker-end="url(#mg)" points="23.5,697.2 30.4,704.2 37.3,689.9 44.2,695.3 51.1,691.8 58,697.9 64.9,690.8 71.8,698.8 78.7,697.9 85.6,695.3 92.5,695.3 99.4,695.3 106.3,705.9 113.2,698.8 120.1,695.3 127,699.7 133.9,695.3 154.6,712.7 161.5,696.2 168.4,697.2 175.3,705.1 182.2,704.7 189.1,705.1"/>
<polyline stroke="#0000ff" stroke-width="1.0" marker-start="url(#mb)" marker-mid="url(#mb)" marker-end="url(#mb)" points="23.5,705.1 30.4,705.1 37.3,705.9 44.2,711.7 51.1,706.8 58,712.7 64.9,710.1 71.8,705.6 78.7,704.2 85.6,699.3 92.5,695.8 99.4,698.8 106.3,693.4 113.2,703.3 120.1,696.2 127,689.9 133.9,688.2 140.8,698.8 147.7,699.3 154.6,703.7 182.2,703 189.1,699.7"/>
<polyline stroke="#ff0000" stroke-width="1.0" marker-start="url(#mr)" marker-mid="url(#mr)" marker-end="url(#mr)" points="23.5,698.8 30.4,705.1 37.3,709.6 44.2,710.8 71.8,717.1 78.7,714.1 85.6,704.7 92.5,695.8 99.4,697.2 106.3,694.8 113.2,698.8 120.1,692.9 127,699.7 133.9,708.2 154.6,729.6"/>
</g>
<path d="M23.5 718.1h4.3M189.1 718.1h-4.3M23.5 694.6h4.3M189.1 694.6h-4.3M23.5 671.1h4.3M189.1 671.1h-4.3M23.5 647.6h4.3M189.1 647.6h-4.3M23.5 624.1h4.3M189.1 624.1h-4.3M23.5 729.8v-4.2M23.5 612.4v4.2M37.3 729.8v-4.2M37.3 612.4v4.2M51.1 729.8v-4.2M51.1 612.4v4.2M64.9 729.8v-4.2M64.9 612.4v4.2M78.7 729.8v-4.2M78.7 612.4v4.2M92.5 729.8v-4.2M92.5 612.4v4.2M106.3 729.8v-4.2M106.3 612.4v4.2M120.1 729.8v-4.2M120.1 612.4v4.2M133.9 729.8v-4.2M133.9 612.4v4.2M147.7 729.8v-4.2M147.7 612.4v4.2M161.5 729.8v-4.2M161.5 612.4v4.2M175.3 729.8v-4.2M175.3 612.4v4.2M189.1 729.8v-4.2M189.1 612.4v4.2" stroke="#000" stroke-width=".95" fill="none"/>
<path d="M23.5 729.8h5.5M189.1 729.8h-5.5M23.5 706.3h5.5M189.1 706.3h-5.5M23.5 682.8h5.5M189.1 682.8h-5.5M23.5 659.4h5.5M189.1 659.4h-5.5M23.5 635.9h5.5M189.1 635.9h-5.5M23.5 612.4h5.5M189.1 612.4h-5.5" stroke="#000" stroke-width="1.35" fill="none"/>
<rect x="23.5" y="611.9" width="165.6" height="117.9" fill="none" stroke="#000" stroke-width="1.2"/>
<path d="M23.5 729.8H189.1V612.4" fill="none" stroke="#000" stroke-width="1.5" stroke-linecap="square"/>
<path class="g" d="M23.5 706.3H189.1M23.5 682.8H189.1M23.5 659.4H189.1M23.5 635.9H189.1M23.5 612.9H189.1M51.1 612.4V729.8M78.7 612.4V729.8M106.3 612.4V729.8M133.9 612.4V729.8M161.5 612.4V729.8"/>
<g class="t" fill="#000" color="#000"><text x="18.9" y="732.7" text-anchor="end">2</text><text x="18.9" y="709.2" text-anchor="end">12</text><text x="18.9" y="685.7" text-anchor="end">22</text><text x="18.9" y="662.3" text-anchor="end">32</text><text x="18.9" y="638.8" text-anchor="end">42</text><text x="18.9" y="615.3" text-anchor="end">52</text><text x="23.5" y="740.6" text-anchor="middle">0</text><text x="51.1" y="740.6" text-anchor="middle">4</text><text x="78.7" y="740.6" text-anchor="middle">8</text><text x="106.3" y="740.6" text-anchor="middle">12</text><text x="133.9" y="740.6" text-anchor="middle">16</text><text x="161.5" y="740.6" text-anchor="middle">20</text><text x="189.1" y="740.6" text-anchor="middle">24</text></g>
<clipPath id="c38"><rect x="13.5" y="743.8" width="185.6" height="11.1"/></clipPath><text class="n" clip-path="url(#c38)" x="106.3" y="754.7" fill="#000" stroke="#000">Tung Chung</text>
</g>
<g>
<clipPath id="c39"><rect x="216.5" y="612.4" width="165.6" height="117.4"/></clipPath>
<g clip-path="url(#c39)" fill="none" stroke-linejoin="round">
</g>
<path d="M216.5 718.1h4.3M382.1 718.1h-4.3M216.5 694.6h4.3M382.1 694.6h-4.3M216.5 671.1h4.3M382.1 671.1h-4.3M216.5 647.6h4.3M382.1 647.6h-4.3M216.5 624.1h4.3M382.1 624.1h-4.3M216.5 729.8v-4.2M216.5 612.4v4.2M230.3 729.8v-4.2M230.3 612.4v4.2M244.1 729.8v-4.2M244.1 612.4v4.2M257.9 729.8v-4.2M257.9 612.4v4.2M271.7 729.8v-4.2M271.7 612.4v4.2M285.5 729.8v-4.2M285.5 612.4v4.2M299.3 729.8v-4.2M299.3 612.4v4.2M313.1 729.8v-4.2M313.1 612.4v4.2M326.9 729.8v-4.2M326.9 612.4v4.2M340.7 729.8v-4.2M340.7 612.4v4.2M354.5 729.8v-4.2M354.5 612.4v4.2M368.3 729.8v-4.2M368.3 612.4v4.2M382.1 729.8v-4.2M382.1 612.4v4.2" stroke="#000" stroke-width=".95" fill="none"/>
<path d="M216.5 729.8h5.5M382.1 729.8h-5.5M216.5 706.3h5.5M382.1 706.3h-5.5M216.5 682.8h5.5M382.1 682.8h-5.5M216.5 659.4h5.5M382.1 659.4h-5.5M216.5 635.9h5.5M382.1 635.9h-5.5M216.5 612.4h5.5M382.1 612.4h-5.5" stroke="#000" stroke-width="1.35" fill="none"/>
<rect x="216.5" y="611.9" width="165.6" height="117.9" fill="none" stroke="#000" stroke-width="1.2"/>
<path d="M216.5 729.8H382.1V612.4" fill="none" stroke="#000" stroke-width="1.5" stroke-linecap="square"/>
<path class="g" d="M216.5 706.3H382.1M216.5 682.8H382.1M216.5 659.4H382.1M216.5 635.9H382.1M216.5 612.9H382.1M244.1 612.4V729.8M271.7 612.4V729.8M299.3 612.4V729.8M326.9 612.4V729.8M354.5 612.4V729.8"/>
<g class="t" fill="#000" color="#000"><text x="211.9" y="732.7" text-anchor="end">2</text><text x="211.9" y="709.2" text-anchor="end">12</text><text x="211.9" y="685.7" text-anchor="end">22</text><text x="211.9" y="662.3" text-anchor="end">32</text><text x="211.9" y="638.8" text-anchor="end">42</text><text x="211.9" y="615.3" text-anchor="end">52</text><text x="216.5" y="740.6" text-anchor="middle">0</text><text x="244.1" y="740.6" text-anchor="middle">4</text><text x="271.7" y="740.6" text-anchor="middle">8</text><text x="299.3" y="740.6" text-anchor="middle">12</text><text x="326.9" y="740.6" text-anchor="middle">16</text><text x="354.5" y="740.6" text-anchor="middle">20</text><text x="382.1" y="740.6" text-anchor="middle">24</text></g>
<clipPath id="c40"><rect x="206.5" y="743.8" width="185.6" height="11.1"/></clipPath><text class="n" clip-path="url(#c40)" x="299.3" y="754.7" fill="#000" stroke="#000">Airport, Pump House 5</text>
</g>
<g>
<clipPath id="c41"><rect x="409.5" y="612.4" width="165.6" height="117.4"/></clipPath>
<g clip-path="url(#c41)" fill="none" stroke-linejoin="round">
<polyline stroke="#00ffff" stroke-width="1.0" marker-start="url(#mc)" marker-mid="url(#mc)" marker-end="url(#mc)" points="409.5,714.3 416.4,717.6 423.3,717.1 430.2,714.8 437.1,705.1 444,708.7 450.9,708.7 457.8,710.3 464.7,701.2 471.6,700 478.5,697.2 485.4,690.8 492.3,689.4 499.2,694.3 506.1,699.3 513,698.3 519.9,692.7 526.8,700.7 533.7,700.7 540.6,705.1 547.5,705.1 554.4,703.3 561.3,701.9 568.2,702.3 575.1,705.9"/>
<polyline stroke="#00ff00" stroke-width="1.0" marker-start="url(#mg)" marker-mid="url(#mg)" marker-end="url(#mg)" points="409.5,706.8 416.4,703.3 423.3,699.3 430.2,704.2 437.1,708.9 444,711.3 450.9,710.3 457.8,704.2 464.7,704.7 471.6,700.7 478.5,695.8 485.4,697.2 492.3,697.9 499.2,685.9 506.1,698.8 513,692.2 519.9,690.6 526.8,708.2 533.7,695.8 540.6,704.2 547.5,703.7 554.4,696.5 561.3,708.9 568.2,710.3 575.1,710.3"/>
<polyline stroke="#0000ff" stroke-width="1.0" marker-start="url(#mb)" marker-mid="url(#mb)" marker-end="url(#mb)" points="409.5,710.3 416.4,714.1 423.3,719 430.2,718.5 437.1,718.5 444,709.6 450.9,713.1 457.8,710.3 464.7,712.7 471.6,700 478.5,701.9 485.4,697.9 492.3,699.3 499.2,704.2 506.1,705.1 513,709.6 519.9,713.1 526.8,697.2 533.7,703 540.6,709.6 547.5,709.6 554.4,708.9 561.3,712.7 568.2,712.7 575.1,713.6"/>
<polyline stroke="#ff0000" stroke-width="1.0" marker-start="url(#mr)" marker-mid="url(#mr)" marker-end="url(#mr)" points="409.5,711.3 416.4,713.1 423.3,712.2 430.2,710.3 437.1,708.9 444,709.6 450.9,709.6 457.8,716.7 464.7,713.6 471.6,707.7 478.5,694.3 485.4,697.9 492.3,697.2 499.2,710.1 506.1,711.3 513,703.7 519.9,703.7 526.8,700.7 533.7,703.7 540.6,699.3 547.5,704.2 554.4,714.1 561.3,715.5 568.2,718.5 575.1,715.7"/>
</g>
<path d="M409.5 718.1h4.3M575.1 718.1h-4.3M409.5 694.6h4.3M575.1 694.6h-4.3M409.5 671.1h4.3M575.1 671.1h-4.3M409.5 647.6h4.3M575.1 647.6h-4.3M409.5 624.1h4.3M575.1 624.1h-4.3M409.5 729.8v-4.2M409.5 612.4v4.2M423.3 729.8v-4.2M423.3 612.4v4.2M437.1 729.8v-4.2M437.1 612.4v4.2M450.9 729.8v-4.2M450.9 612.4v4.2M464.7 729.8v-4.2M464.7 612.4v4.2M478.5 729.8v-4.2M478.5 612.4v4.2M492.3 729.8v-4.2M492.3 612.4v4.2M506.1 729.8v-4.2M506.1 612.4v4.2M519.9 729.8v-4.2M519.9 612.4v4.2M533.7 729.8v-4.2M533.7 612.4v4.2M547.5 729.8v-4.2M547.5 612.4v4.2M561.3 729.8v-4.2M561.3 612.4v4.2M575.1 729.8v-4.2M575.1 612.4v4.2" stroke="#000" stroke-width=".95" fill="none"/>
<path d="M409.5 729.8h5.5M575.1 729.8h-5.5M409.5 706.3h5.5M575.1 706.3h-5.5M409.5 682.8h5.5M575.1 682.8h-5.5M409.5 659.4h5.5M575.1 659.4h-5.5M409.5 635.9h5.5M575.1 635.9h-5.5M409.5 612.4h5.5M575.1 612.4h-5.5" stroke="#000" stroke-width="1.35" fill="none"/>
<rect x="409.5" y="611.9" width="165.6" height="117.9" fill="none" stroke="#000" stroke-width="1.2"/>
<path d="M409.5 729.8H575.1V612.4" fill="none" stroke="#000" stroke-width="1.5" stroke-linecap="square"/>
<path class="g" d="M409.5 706.3H575.1M409.5 682.8H575.1M409.5 659.4H575.1M409.5 635.9H575.1M409.5 612.9H575.1M437.1 612.4V729.8M464.7 612.4V729.8M492.3 612.4V729.8M519.9 612.4V729.8M547.5 612.4V729.8"/>
<g class="t" fill="#000" color="#000"><text x="404.9" y="732.7" text-anchor="end">2</text><text x="404.9" y="709.2" text-anchor="end">12</text><text x="404.9" y="685.7" text-anchor="end">22</text><text x="404.9" y="662.3" text-anchor="end">32</text><text x="404.9" y="638.8" text-anchor="end">42</text><text x="404.9" y="615.3" text-anchor="end">52</text><text x="409.5" y="740.6" text-anchor="middle">0</text><text x="437.1" y="740.6" text-anchor="middle">4</text><text x="464.7" y="740.6" text-anchor="middle">8</text><text x="492.3" y="740.6" text-anchor="middle">12</text><text x="519.9" y="740.6" text-anchor="middle">16</text><text x="547.5" y="740.6" text-anchor="middle">20</text><text x="575.1" y="740.6" text-anchor="middle">24</text></g>
<clipPath id="c42"><rect x="399.5" y="743.8" width="185.6" height="11.1"/></clipPath><text class="n" clip-path="url(#c42)" x="492.3" y="754.7" fill="#000" stroke="#000">Southern</text>
</g>
<g>
<clipPath id="c43"><rect x="795.5" y="612.4" width="165.6" height="117.4"/></clipPath>
<g clip-path="url(#c43)" fill="none" stroke-linejoin="round">
<polyline stroke="#ff0000" stroke-width="1.05" points="795.5,690.6 797.2,693.4 799,692.7 800.7,695.3 802.4,687.8 804.1,687.8 805.9,687.8 807.6,691.1 809.3,686.8 811,685.2 812.8,681.7 814.5,678.1 816.2,678.1 817.9,669.2 819.6,673.9 821.4,681.7 823.1,680.7 824.8,687.5 826.5,684.2 828.3,678.1 830,663.4 831.7,667.8 833.5,679.8 835.2,686.1 836.9,687.8 838.6,688.7 840.4,695.3 842.1,698.6 843.8,698.6 845.5,700.7 847.2,699.3 849,697.6 850.7,697.2 852.4,689.6 854.1,685.2 855.9,683.3 864.5,698.6 866.2,694.6 868,695.3 869.7,700.7 871.4,694.6 873.1,689.2 874.9,696.7 876.6,702.1 878.3,704.2 880,708.2 881.8,719 883.5,719.5 885.2,723.7 886.9,724.4 888.6,718.1 890.4,720.6 892.1,714.1 893.8,708.2 895.5,711.7 897.3,706.6 899,702.1 900.7,694.6 902.5,694.6 904.2,688.7 905.9,695 907.6,695.3 909.4,707 911.1,710.5 912.8,697.2 914.5,691.1 916.2,696.7 918,707 919.7,706.6 921.4,711.7 923.1,720.6 924.9,721.6 926.6,723.5 928.3,723.7 930,727.2 931.8,724.9 933.5,720.6 935.2,719.5 937,717.6 938.7,716.7 940.4,716.7 942.1,715.5 943.9,714.8 945.6,727.2 947.3,724.9 949,726.5 950.8,729.1 952.5,724.4 954.2,722.5 955.9,720.6 957.6,728.4 959.4,727 961.1,727.2"/>
<polyline stroke="#ff0000" stroke-width="1.05" points="795.5,653.7 797.2,667.8 799,669.2 800.7,671.6 802.4,657.7 804.1,661.7 805.9,684.7 807.6,686.6 809.3,686.8 811,685.7 812.8,687.5 814.5,683.1 816.2,683.1 817.9,681.2 819.6,691.5 821.4,683.1 823.1,685.7 824.8,691.1 826.5,687.5 828.3,681.7 830,684.7 831.7,684 833.5,686.8 835.2,686.6 836.9,685.2 838.6,684.5 840.4,685.2 842.1,686.1 843.8,686.8 845.5,688 847.2,697.6 849,688 850.7,690.6 852.4,688.2 854.1,682.1 855.9,676.3 857.6,678.1 859.3,677.4 861,678.6 862.8,677.7 864.5,671.6 866.2,672 868,687.5 869.7,689.2 871.4,684.5 873.1,685.7 874.9,682.1 876.6,685.7 878.3,670.2 880,676.5 881.8,679.6 883.5,674.2 885.2,680.3 886.9,658.7 888.6,682.1 890.4,700.9 892.1,699 893.8,687.5 895.5,691.1 897.3,697.2 899,686.8 900.7,669.2 902.5,680.3 904.2,682.1 905.9,670.2 907.6,681.2 909.4,686.8 911.1,687.5 912.8,693.6 914.5,692.2 916.2,694.1 918,690.1 919.7,666.2 921.4,665.2 923.1,685.7 924.9,671.6 926.6,612.9 928.3,612.2 930,688.2 931.8,701.6 933.5,695.5 935.2,690.1 937,691.5 943.9,683.1 945.6,697.2 947.3,698.1 949,700.4 950.8,701.6 952.5,688 954.2,684 955.9,683.1 957.6,677.4 959.4,676.3 961.1,657.2"/>
<polyline stroke="#ff0000" stroke-width="1.05" points="795.5,680.3 797.2,683.3 799,692.7 800.7,682.6 802.4,684 804.1,687.5 805.9,688.2 807.6,688.2 809.3,686.1 811,676.7 812.8,673.2 814.5,679.6 816.2,676.7 817.9,663.1 819.6,674.2 821.4,684.7 823.1,673.2 824.8,675.1 826.5,674.2 828.3,669.7 830,672.3 831.7,669.2 833.5,675.1 835.2,683.3 836.9,689.2 838.6,683.1 840.4,684.5 842.1,695.5 843.8,701.6 845.5,703.5 847.2,700 849,690.1 850.7,682.6 852.4,684 854.1,688 855.9,674.4 857.6,676.3 859.3,683.3 861,682.1 862.8,678.6 864.5,668.8 866.2,661.7 868,688.2 869.7,684.7 871.4,675.1 873.1,670.6 874.9,680.3 876.6,684.7 878.3,680.3 880,689.2 881.8,699 883.5,699 885.2,703.5 886.9,706.1 888.6,704.7 890.4,699.3 892.1,691.1 893.8,681.2 895.5,692.2 897.3,697.6 899,676.7 900.7,667.3 902.5,661.2 904.2,661.2 905.9,680.3 907.6,680.3 909.4,688 911.1,690.6 912.8,675.1 914.5,667.6 916.2,689.2 918,695.5 919.7,691.1 921.4,677.7 923.1,678.6 924.9,688 926.6,702.6 928.3,715.5 930,704.7 931.8,690.1 933.5,700 935.2,708.9 937,698.1 938.7,698.1 940.4,699.5 942.1,699 943.9,696.5 945.6,692.7 947.3,699 949,684.5 950.8,690.1 952.5,694.1 954.2,685.4 955.9,684.5 957.6,699.3 959.4,689.2 961.1,681.2"/>
<polyline stroke="#0000ff" stroke-width="1.05" points="795.5,695.3 797.2,689.9 799,687.3 800.7,686.4 802.4,690.8 804.1,688.2 805.9,691.8 807.6,687.3 809.3,685.4 811,688.9 812.8,691.8 814.5,694.3 816.2,702.3 817.9,701.6 819.6,699.7 821.4,689.9 823.1,697.2 824.8,701.9 826.5,700.7 828.3,704.2 830,693.4 831.7,689.4 833.5,692.2 835.2,689.9 836.9,688.9 838.6,682.4 840.4,688.7 842.1,690.6 843.8,683.3 845.5,687.3 847.2,692.2 849,679.3 850.7,683.8 852.4,688.9 854.1,695.3 855.9,700.7 857.6,701.2 859.3,697.9 861,694.8 862.8,695.3 864.5,692.7 866.2,695.3 868,699.7 869.7,697.2 871.4,694.8 873.1,694.8 874.9,701.9 876.6,705.1 878.3,702.3 880,701.2 881.8,697.9 883.5,704.2 885.2,695.8 886.9,700.2 888.6,705.9 890.4,694.8 892.1,681.7 893.8,695.3 895.5,701.6 897.3,707.7 899,705.1 900.7,705.1 902.5,705.1 904.2,703 905.9,696.5 907.6,694.3 909.4,697.2 911.1,695.3 912.8,690.8 914.5,699.7 916.2,704.7 918,705.1 919.7,703 921.4,700.7 923.1,705.6 924.9,704.7 926.6,705.1 928.3,711.7 930,708.9 931.8,699.7 933.5,691.8 935.2,687.8 937,690.8 938.7,701.2 940.4,711.7 942.1,708.2 943.9,713.1 945.6,719.7 947.3,717.1 949,715.7 950.8,715.7 952.5,719.7 954.2,715 955.9,711.7 957.6,707.7 959.4,707.3 961.1,708.9"/>
<polyline stroke="#0000ff" stroke-width="1.05" points="795.5,689.9 797.2,688.7 799,685.4 800.7,682.4 802.4,683.8 804.1,687.3 805.9,688.2 807.6,684.7 809.3,687.3 811,690.6 812.8,691.8 814.5,694.3 816.2,688.7 817.9,689.2 819.6,692.2 821.4,698.8 823.1,699.7 824.8,696.2 826.5,697.6 828.3,696.2 830,691.8 831.7,694.3 833.5,695.8 835.2,694.8 836.9,695.3 838.6,694.1 840.4,694.1 842.1,691.8 843.8,691.8 845.5,695.3 847.2,697.9 849,697.9 850.7,695.3 852.4,689.9 854.1,690.8 855.9,695.3 857.6,695.3 859.3,690.6 861,699.3 862.8,706.8 864.5,697.9 866.2,699.7 868,697.9 869.7,695.3 871.4,697.9 873.1,700.7 874.9,703.3 876.6,701.2 878.3,700 880,700.7 881.8,704.2 883.5,703.7 885.2,705.1 886.9,712.2 888.6,707.7 890.4,700.7 892.1,698.8 893.8,699.3 895.5,697.9 897.3,694.8 899,700.7 900.7,699.3 902.5,699.3 904.2,705.6 905.9,707.7 907.6,707.7 909.4,697.2 911.1,700.7 912.8,703.7 914.5,707.7 916.2,706.8 918,708.9 919.7,707.3 921.4,698.8 923.1,695.3 924.9,699.3 926.6,703 928.3,698.8 930,701.6 931.8,707.7 933.5,707.5 935.2,705.1 937,708.7 938.7,710.1 940.4,706.8 942.1,705.6 943.9,706.3 945.6,705.4 947.3,705.1 949,705.1 950.8,706.8 952.5,714.1 954.2,710.8 955.9,702.3 957.6,686.8 959.4,685.2 961.1,704.2"/>
<polyline stroke="#0000ff" stroke-width="1.05" points="795.5,689.9 797.2,691.8 799,693.4 800.7,691.8 802.4,690.8 804.1,690.6 805.9,692.7 807.6,688.7 809.3,687.8 811,688.7 812.8,690.8 814.5,689.2 816.2,684 817.9,686.4 819.6,690.6 821.4,694.1 823.1,702.3 824.8,701.9 826.5,702.3 828.3,700.7 830,692.9 831.7,689.9 833.5,679.6 835.2,680.3 836.9,680.3 838.6,678.8 840.4,678.8 842.1,686.4 843.8,690.8 845.5,700.7 847.2,697.2 849,694.1 850.7,691.3 852.4,692.7 854.1,690.8 855.9,689.2 857.6,695.8 859.3,697.2 861,698.8 862.8,701.6 864.5,698.8 866.2,697.9 868,695.3 869.7,700.7 871.4,694.1 873.1,694.8 874.9,697.2 876.6,698.8 878.3,697.2 880,699.7 881.8,700.7 883.5,700.7 885.2,706.8 886.9,705.1 888.6,710.3 890.4,706.6 892.1,706.3 893.8,704.2 895.5,698.8 897.3,700.7 899,704.2 900.7,699.7 902.5,702.3 904.2,705.1 905.9,707.7 907.6,705.1 909.4,703.7 911.1,701.2 912.8,703.7 914.5,705.9 916.2,698.8 918,700 919.7,704.2 921.4,699.7 923.1,706.6 924.9,701.2 926.6,700.7 928.3,700.7 930,704.2 931.8,704.4 933.5,704.2 935.2,700.7 937,699.7 938.7,705.9 940.4,708.7 942.1,712.7 943.9,715.7 945.6,715.5 947.3,715.7 949,713.1 950.8,710.3 952.5,715.7 954.2,711.7 955.9,708.7 957.6,703.7 959.4,708.9 961.1,708.7"/>
<polyline stroke="#0000ff" stroke-width="1.05" points="795.5,714.8 797.2,714.1 799,705.9 800.7,701.6 802.4,707.7 804.1,709.6 805.9,708.9 807.6,705.1 809.3,705.1 811,705.1 812.8,705.9 814.5,702.3 816.2,698.8 817.9,698.8 819.6,694.3 821.4,700.7 823.1,704.2 824.8,706.8 826.5,710.1 828.3,713.1 830,710.3 831.7,711.3 833.5,703.7 835.2,711.7 836.9,720.2 838.6,723.7 840.4,714.1 842.1,704.7 843.8,709.6 845.5,714.8 847.2,709.6 849,702.3 850.7,700.7 852.4,704.2 854.1,701.6 855.9,705.1 857.6,705.1 859.3,714.3 861,706.8 862.8,706.8 864.5,704.2 866.2,715.7 868,714.1 869.7,714.8 871.4,715.7 873.1,710.3 874.9,710.3 876.6,711.7 878.3,716.7 880,715.7 881.8,719 883.5,722.1 885.2,722.8 886.9,720.6 888.6,722.8 890.4,728.6 892.1,718.5 893.8,709.6 895.5,710.1 897.3,705.6 899,697.9 900.7,705.1 902.5,706.8 904.2,706.8 905.9,714.8 907.6,710.3 909.4,708.9 911.1,714.1 912.8,713.6 914.5,714.1 916.2,712.7 918,717.6 919.7,711.3 921.4,714.1 923.1,708.9 924.9,712.7 926.6,715.7 928.3,714.8 930,718.5 931.8,714.3 933.5,715.7 935.2,714.1 937,714.1 938.7,710.3 940.4,710.3 942.1,714.3 943.9,712.2 945.6,713.6 947.3,716.7 949,714.3 950.8,715.7 952.5,718.5 954.2,720.6 955.9,719.7 957.6,719.7 959.4,720.2 961.1,711.3"/>
<polyline stroke="#0000ff" stroke-width="1.05" points="795.5,687.3 797.2,690.8 799,695 800.7,689.2 802.4,687.3 804.1,690.8 805.9,690.8 807.6,675.1 809.3,685.4 811,679.3 812.8,681 814.5,675.8 816.2,665.9 817.9,681 819.6,687.3 821.4,673.9 823.1,696.5 824.8,692.7 826.5,690.8 828.3,694.1 830,689.2 831.7,693.4 833.5,673 835.2,659.8 836.9,668.5 838.6,687.3 840.4,675.1 842.1,685.4 843.8,689.2 845.5,681.7 847.2,681.7 849,689.2 850.7,688.2 852.4,692.9 854.1,670.4 855.9,685.4 857.6,684.7 859.3,681 861,679.3 862.8,674.9 864.5,679.3 866.2,681.7 868,686.4 869.7,689.2 871.4,673 873.1,677.4 874.9,680.3 876.6,687.3 878.3,689.9 880,684.7 881.8,702.3 883.5,687.3 885.2,687.3 886.9,709.6 888.6,687.3 890.4,694.1 892.1,684.7 893.8,690.8 895.5,686.4 897.3,690.8 899,677.4 900.7,694.1 902.5,690.8 904.2,676.3 905.9,684 907.6,674.9 909.4,674.9 911.1,679.8 912.8,689.2 914.5,679.3 916.2,673 918,684.7 919.7,691.8 921.4,694.1 923.1,681 924.9,694.1 926.6,689.9 928.3,704.2 930,694.3 931.8,689.2 933.5,684.7 935.2,684.7 937,686.4 938.7,686.4 940.4,691.8 942.1,700.7 943.9,696.2 945.6,695.8 947.3,700.7 949,696.2 950.8,710.1 952.5,703.7 954.2,714.5 955.9,698.6 957.6,705.1 959.4,696.2 961.1,695.8"/>
<polyline stroke="#0000ff" stroke-width="1.05" points="795.5,702.3 797.2,699.7 799,698.8 800.7,701.9 802.4,700.7 804.1,701.9 805.9,697.2 807.6,699.3 809.3,695.3 811,695.3 812.8,696.5 814.5,694.3 816.2,681 817.9,682.8 819.6,689.2 821.4,693.4 823.1,705.1 824.8,706.8 826.5,699.7 828.3,694.8 830,690.8 831.7,697.2 833.5,698.8 835.2,697.2 836.9,703.3 838.6,704.7 840.4,704.7 842.1,705.1 843.8,703.7 845.5,701.2 847.2,705.1 849,700 850.7,703 852.4,695.8 854.1,697.2 855.9,698.8 857.6,697.9 859.3,695.8 861,689.9 862.8,699.7 864.5,697.2 866.2,697.9 868,695.8 869.7,694.3 871.4,696.2 873.1,697.6 874.9,697.9 876.6,696.5 878.3,702.3 880,704.2 881.8,705.9 883.5,706.8 885.2,706.8 886.9,715.5 888.6,715.7 890.4,708.9 892.1,708.7 893.8,702.3 895.5,699.3 897.3,704.7 899,704.2 900.7,704.2 902.5,703 904.2,706.6 905.9,710.3 907.6,698.8 909.4,695.8 911.1,698.8 912.8,705.9 914.5,702.3 916.2,700 918,706.8 919.7,703.3 921.4,707.3 923.1,708.9 924.9,711.3 926.6,713.1 928.3,712.2 930,717.1 931.8,719.2 933.5,718.1 935.2,715.7 937,709.6 938.7,699.7 940.4,697.9 942.1,697.9 943.9,705.1 945.6,714.1 947.3,715.5 949,714.1 950.8,720.6 952.5,714.8 954.2,708.2 955.9,702.3 957.6,710.1 959.4,715.7 961.1,718.5"/>
<polyline stroke="#0000ff" stroke-width="1.05" points="795.5,683.8 797.2,691.8 799,671.3 800.7,694.3 802.4,683.8 804.1,679.3 805.9,677.4 807.6,679.3 809.3,689.2 811,689.2 812.8,687.3 814.5,681 816.2,683.8 817.9,681.9 819.6,680.3 821.4,682.8 823.1,680.3 824.8,689.2 826.5,693.4 828.3,675.1 830,685.4 831.7,680.3 833.5,681.7 835.2,676.5 836.9,681.7 838.6,694.3 840.4,685.2 842.1,687.3 843.8,696.5 845.5,695.3 847.2,681 849,694.3 850.7,689.2 852.4,687.5 854.1,691.8 855.9,688.7 862.8,692.9 864.5,689.2 866.2,687.3 868,686.4 869.7,688.2 871.4,686.4 873.1,685.2 874.9,687.3 876.6,690.8 878.3,695.3 880,697.2 881.8,697.9 883.5,702.3 885.2,703.7 886.9,703.7 888.6,702.3 890.4,703 892.1,693.4 893.8,692.2 895.5,694.1 897.3,694.1 899,686.4 900.7,687.3 902.5,680.3 904.2,684 905.9,686.4 907.6,691.8 909.4,694.3 911.1,701.2 912.8,691.8 914.5,692.2 916.2,688.2 918,694.1 919.7,695.3 921.4,692.9 923.1,697.9 924.9,698.8 926.6,702.3 928.3,703.3 930,700.7 931.8,700.7 933.5,696.5 935.2,698.8 937,697.2 938.7,703.7 940.4,703.7 942.1,697.9 943.9,704.2 945.6,713.1 947.3,705.9 949,708.9 950.8,712.2 952.5,711.7 954.2,708.9 955.9,701.2 957.6,706.8 959.4,709.6 961.1,702.3"/>
<polyline stroke="#0000ff" stroke-width="1.05" points="795.5,694.3 797.2,686.4 799,685.4 800.7,691.8 802.4,697.2 804.1,700 805.9,692.9 807.6,690.6 809.3,694.3 811,697.9 812.8,697.9 814.5,699.3 816.2,703.7 817.9,703.3 819.6,697.2 821.4,692.9 823.1,698.8 824.8,711.3 826.5,714.1 828.3,710.1 830,701.9 831.7,703.3 833.5,703 835.2,699.7 836.9,697.9 838.6,694.3 840.4,687.3 842.1,690.6 843.8,689.9 845.5,689.9 847.2,696.5 849,698.8 850.7,698.8 852.4,701.9 854.1,703.7 855.9,703.7 857.6,704.2 859.3,694.8 861,691.8 862.8,695.3 864.5,699.7 866.2,701.9 868,700 869.7,697.2 871.4,699.7 873.1,706.8 874.9,710.3 876.6,706.8 878.3,700.7 880,699.7 881.8,697.9 883.5,699.7 885.2,701.2 886.9,703.7 888.6,708.2 890.4,707.7 892.1,704.2 893.8,705.6 895.5,710.1 897.3,712.2 899,709.6 900.7,699.7 902.5,703.3 904.2,699.3 905.9,698.8 907.6,710.3 909.4,715.5 911.1,716.7 912.8,718.1 914.5,715.5 916.2,701.9 918,704.2 919.7,708.7 921.4,705.6 923.1,704.2 924.9,710.3 926.6,714.1 928.3,708.2 930,714.3 931.8,708.7 933.5,700.7 935.2,692.7 937,696.2 938.7,724.6 942.1,708.7 943.9,708.2 945.6,702.3 947.3,704.2 949,708.9 950.8,718.5 952.5,719.7 954.2,714.8 955.9,708.9 957.6,703 959.4,704.2 961.1,703.7"/>
<polyline stroke="#0000ff" stroke-width="1.05" points="795.5,697.9 797.2,695.3 799,694.1 800.7,689.9 802.4,690.8 804.1,692.9 805.9,690.8 807.6,689.2 809.3,689.9 811,691.8 812.8,690.8 814.5,691.8 816.2,677.4 817.9,682.8 819.6,681.9 821.4,693.4 823.1,704.2 824.8,700.7 826.5,703.7 828.3,689.4 830,688.7 831.7,689.2 833.5,683.3 835.2,690.8 836.9,690.6 838.6,692.2 840.4,689.4 842.1,694.1 843.8,696.2 845.5,698.8 847.2,695.3 849,689.9 850.7,690.8 852.4,694.8 854.1,690.8 855.9,693.4 857.6,690.8 859.3,686.4 861,684.7 862.8,694.1 864.5,690.6 866.2,692.7 868,687.3 869.7,697.2 871.4,695.8 873.1,689.9 874.9,697.2 876.6,698.8 878.3,703.7 880,699.3 881.8,704.2 883.5,707.7 885.2,703.7 886.9,707.3 888.6,708.9 890.4,701.9 892.1,698.8 893.8,697.2 895.5,693.4 897.3,693.4 899,694.1 900.7,689.2 902.5,689.9 904.2,694.1 905.9,703 907.6,705.1 909.4,700 911.1,701.9 912.8,703.3 914.5,708.2 916.2,711.3 918,701.2 919.7,700.7 921.4,702.3 923.1,700.7 924.9,707.7 926.6,710.3 928.3,703.3 930,711.3 931.8,715.7 933.5,702.3 935.2,701.2 937,694.1 938.7,697.9 940.4,698.3 942.1,692.7 943.9,694.3 945.6,705.6 947.3,706.8 949,708.9 950.8,713.1 952.5,705.9 954.2,703 955.9,694.1 957.6,701.6 959.4,698.8 961.1,703.7"/>
<polyline stroke="#0000ff" stroke-width="1.05" points="795.5,697.2 797.2,696.2 799,694.3 800.7,682.8 802.4,682.8 804.1,685.2 805.9,682.8 807.6,687.3 809.3,686.4 811,685.4 812.8,681.7 814.5,679.6 816.2,684.7 817.9,686.4 819.6,685.4 821.4,691.8 823.1,692.7 824.8,695.3 826.5,695.3 828.3,692.7 830,692.7 831.7,689.9 833.5,696.2 835.2,697.2 836.9,696.2 838.6,695.3 840.4,696.2 842.1,696.2 843.8,700.7 845.5,698.8 847.2,698.8 849,694.1 850.7,692.7 852.4,694.1 854.1,690.8 855.9,689.2 857.6,687.3 859.3,686.4 861,685.2 862.8,692.7 864.5,690.8 866.2,693.4 868,698.8 869.7,699.7 871.4,695.3 873.1,697.2 874.9,697.2 876.6,699.3 878.3,699.3 880,698.8 881.8,706.8 883.5,704.2 885.2,708.9 886.9,706.8 888.6,710.3 890.4,708.2 892.1,700.7 893.8,696.5 895.5,698.8 897.3,695.3 899,689.4 900.7,689.4 902.5,695.3 904.2,695 905.9,697.2 907.6,699.7 909.4,704.2 911.1,704.7 912.8,700.7 914.5,698.8 916.2,695.8 918,694.3 919.7,694.3 921.4,698.8 923.1,697.9 924.9,697.9 926.6,700.7 928.3,703.7 930,703.7 931.8,704.7 933.5,705.9 935.2,705.6 937,704.2 938.7,710.3 940.4,705.9 942.1,706.8 943.9,711.7 945.6,712.2 947.3,709.6 949,705.9 950.8,703.7 952.5,697.9 954.2,694.3 955.9,704.2 957.6,709.6 959.4,710.1 961.1,697.2"/>
<polyline stroke="#0000ff" stroke-width="1.05" points="795.5,689.2 797.2,700.7 799,689.9 800.7,686.4 802.4,696.2 804.1,695.3 805.9,691.8 807.6,689.9 809.3,693.4 811,694.3 812.8,683.8 814.5,686.4 816.2,689.9 817.9,696.2 819.6,686.4 821.4,689.9 823.1,695.3 824.8,699.7 826.5,697.9 828.3,697.9 830,698.8 831.7,698.8 833.5,697.2 835.2,698.8 836.9,695.3 838.6,686.4 840.4,695.3 842.1,705.9 843.8,700.7 845.5,695.8 847.2,697.9 849,699.7 850.7,700 852.4,696.2 854.1,697.9 855.9,699.3 857.6,693.4 859.3,689.9 861,692.7 862.8,685.2 864.5,692.2 866.2,692.9 868,703.3 869.7,705.9 871.4,701.2 873.1,697.6 874.9,700 876.6,697.2 878.3,697.2 880,700.7 881.8,701.9 883.5,705.1 885.2,705.1 886.9,703 888.6,711.7 890.4,714.8 892.1,705.9 893.8,694.1 895.5,705.9 897.3,711.3 899,701.2 900.7,704.2 902.5,705.9 904.2,702.3 905.9,703.7 907.6,706.8 909.4,704.7 911.1,705.1 912.8,710.1 914.5,709.6 916.2,708.9 918,692.7 919.7,694.1 921.4,708.2 923.1,708.2 924.9,700.7 926.6,700 928.3,704.2 930,707.7 931.8,704.2 933.5,712.2 935.2,713.6 937,719.7 938.7,713.6 940.4,711.3 942.1,710.3 943.9,722.1 945.6,715.5 947.3,711.3 949,707.7 950.8,713.1 952.5,703.3 954.2,699.7 955.9,704.2 957.6,700 959.4,705.9 961.1,705.1"/>
<polyline stroke="#0000ff" stroke-width="1.05" points="795.5,689.2 797.2,693.4 799,692.7 800.7,691.8 802.4,685.2 804.1,689.2 805.9,689.9 807.6,689.2 809.3,689.9 811,692.2 812.8,685.4 814.5,680.7 816.2,681.9 817.9,687.3 819.6,685.4 821.4,685.2 823.1,691.8 824.8,699.7 826.5,695.3 828.3,694.3 830,690.6 831.7,688.2 833.5,688.7 835.2,689.2 836.9,690.8 838.6,690.6 840.4,689.2 842.1,694.1 843.8,697.9 845.5,701.9 847.2,699.3 849,695.8 850.7,699.7 852.4,695.3 854.1,690.8 855.9,689.4 857.6,692.2 859.3,692.7 861,689.9 862.8,690.8 864.5,690.6 866.2,693.4 868,693.4 869.7,696.2 871.4,693.4 873.1,690.8 874.9,690.6 876.6,693.4 878.3,696.2 880,692.9 881.8,697.9 883.5,704.2 885.2,705.1 886.9,698.8 888.6,705.9 890.4,714.1 892.1,705.1 893.8,698.8 895.5,697.2 897.3,694.1 899,690.8 900.7,688.2 902.5,690.8 904.2,690.8 905.9,693.4 907.6,694.1 909.4,701.9 911.1,708.2 912.8,697.9 914.5,687.3 916.2,691.8 918,697.2 919.7,700.7 921.4,700 923.1,703 924.9,703.7 926.6,696.2 928.3,697.9 930,705.9 931.8,705.9 933.5,708.9 935.2,703.7 937,697.2 938.7,700.7 940.4,704.7 942.1,699.7 943.9,706.6 945.6,714.3 947.3,715.5 949,722.8 950.8,722.1 952.5,715.5 954.2,717.6 955.9,715.7 957.6,710.8 959.4,712.7 961.1,707.3"/>
<polyline stroke="#0000ff" stroke-width="1.05" points="795.5,691.8 797.2,695.3 799,696.2 800.7,690.8 802.4,692.7 804.1,689.9 805.9,694.1 807.6,693.4 809.3,689.4 811,688.2 812.8,690.8 814.5,689.9 816.2,687.3 817.9,684.7 819.6,682.8 821.4,688.2 823.1,689.9 824.8,689.9 826.5,689.2 828.3,689.9 830,696.5 831.7,692.7 833.5,697.2 835.2,690.8 836.9,695.3 838.6,701.6 840.4,695.3 842.1,689.2 843.8,703.3 845.5,702.3 847.2,699.7 849,694.1 850.7,695.3 852.4,694.1 854.1,690.8 855.9,691.8 857.6,695.8 859.3,694.1 861,692.9 862.8,685.4 864.5,680.3 866.2,681.7 868,703.3 869.7,699.7 871.4,701.6 873.1,703 874.9,700.7 876.6,700.7 878.3,697.9 880,695.3 881.8,695.3 883.5,707.7 885.2,705.9 886.9,703.3 888.6,711.3 890.4,705.1 892.1,697.2 893.8,705.1 895.5,703.7 897.3,697.2 899,687.5 900.7,694.1 902.5,690.8 904.2,695.3 905.9,697.2 907.6,694.8 909.4,706.8 911.1,707.3 912.8,707.7 914.5,692.7 916.2,697.2 918,694.1 919.7,694.3 921.4,697.2 923.1,704.2 924.9,705.6 926.6,704.2 928.3,703.7 930,709.6 931.8,705.9 933.5,708.9 935.2,705.9 937,704.2 938.7,705.6 940.4,707.7 942.1,710.3 943.9,706.8 945.6,705.1 947.3,718.5 949,710.1 950.8,717.6 952.5,722.8 954.2,726.7 955.9,722.8 957.6,721.1 959.4,721.3 961.1,713.1"/>
<polyline stroke="#0000ff" stroke-width="1.05" points="795.5,697.2 797.2,696.2 799,701.6 800.7,695.3 802.4,688.7 804.1,688.7 805.9,695.3 807.6,698.8 809.3,697.2 811,695.3 812.8,686.4 814.5,688.2 816.2,691.8 817.9,698.8 819.6,696.2 821.4,693.4 823.1,693.4 835.2,696.5 836.9,697.2 838.6,704.2 840.4,689.9 842.1,695.3 843.8,691.8 845.5,697.9 847.2,690.8 849,698.8 850.7,697.9 852.4,695.3 854.1,695.3 855.9,695.3 857.6,705.9 859.3,698.8 861,695.3 862.8,699.7 864.5,695.3 869.7,712.7 871.4,696.2 873.1,697.2 874.9,705.1 876.6,704.7 878.3,705.1 880,705.1 881.8,705.9 883.5,711.7 885.2,706.8 886.9,712.7 888.6,710.1 890.4,705.6 892.1,704.2 893.8,699.3 895.5,695.8 897.3,698.8 899,693.4 900.7,703.3 902.5,696.2 904.2,689.9 905.9,688.2 907.6,698.8 909.4,699.3 911.1,703.7 918,703 919.7,698.8 921.4,705.1 923.1,709.6 924.9,710.8 931.8,717.1 933.5,714.1 935.2,704.7 937,695.8 938.7,697.2 940.4,694.8 942.1,698.8 943.9,692.9 945.6,699.7 947.3,708.2 952.5,729.6"/>
<polyline stroke="#0000ff" stroke-width="1.05" points="795.5,714.3 797.2,717.6 799,717.1 800.7,714.8 802.4,705.1 804.1,708.7 805.9,708.7 807.6,710.3 809.3,701.2 811,700 812.8,697.2 814.5,690.8 816.2,689.4 817.9,694.3 819.6,699.3 821.4,698.3 823.1,692.7 824.8,700.7 826.5,700.7 828.3,705.1 830,705.1 831.7,703.3 833.5,701.9 835.2,702.3 836.9,706.8 838.6,703.3 840.4,699.3 842.1,704.2 843.8,708.9 845.5,711.3 847.2,710.3 849,704.2 850.7,704.7 852.4,700.7 854.1,695.8 855.9,697.2 857.6,697.9 859.3,685.9 861,698.8 862.8,692.2 864.5,690.6 866.2,708.2 868,695.8 869.7,704.2 871.4,703.7 873.1,696.5 874.9,708.9 876.6,710.3 878.3,710.3 880,714.1 881.8,719 883.5,718.5 885.2,718.5 886.9,709.6 888.6,713.1 890.4,710.3 892.1,712.7 893.8,700 895.5,701.9 897.3,697.9 899,699.3 900.7,704.2 902.5,705.1 904.2,709.6 905.9,713.1 907.6,697.2 909.4,703 911.1,709.6 912.8,709.6 914.5,708.9 916.2,712.7 918,712.7 919.7,711.3 921.4,713.1 923.1,712.2 924.9,710.3 926.6,708.9 928.3,709.6 930,709.6 931.8,716.7 933.5,713.6 935.2,707.7 937,694.3 938.7,697.9 940.4,697.2 942.1,710.1 943.9,711.3 945.6,703.7 947.3,703.7 949,700.7 950.8,703.7 952.5,699.3 954.2,704.2 955.9,714.1 957.6,715.5 959.4,718.5 961.1,715.7"/>
</g>
<path d="M795.5 718.1h4.3M961.1 718.1h-4.3M795.5 694.6h4.3M961.1 694.6h-4.3M795.5 671.1h4.3M961.1 671.1h-4.3M795.5 647.6h4.3M961.1 647.6h-4.3M795.5 624.1h4.3M961.1 624.1h-4.3M795.5 729.8v-4.2M795.5 612.4v4.2M816.2 729.8v-4.2M816.2 612.4v4.2M836.9 729.8v-4.2M836.9 612.4v4.2M857.6 729.8v-4.2M857.6 612.4v4.2M878.3 729.8v-4.2M878.3 612.4v4.2M899 729.8v-4.2M899 612.4v4.2M919.7 729.8v-4.2M919.7 612.4v4.2M940.4 729.8v-4.2M940.4 612.4v4.2M961.1 729.8v-4.2M961.1 612.4v4.2" stroke="#000" stroke-width=".95" fill="none"/>
<path d="M795.5 729.8h5.5M961.1 729.8h-5.5M795.5 706.3h5.5M961.1 706.3h-5.5M795.5 682.8h5.5M961.1 682.8h-5.5M795.5 659.4h5.5M961.1 659.4h-5.5M795.5 635.9h5.5M961.1 635.9h-5.5M795.5 612.4h5.5M961.1 612.4h-5.5" stroke="#000" stroke-width="1.35" fill="none"/>
<rect x="795.5" y="611.9" width="165.6" height="117.9" fill="none" stroke="#000" stroke-width="1.2"/>
<path d="M795.5 729.8H961.1V612.4" fill="none" stroke="#000" stroke-width="1.5" stroke-linecap="square"/>
<path class="g" d="M795.5 706.3H961.1M795.5 682.8H961.1M795.5 659.4H961.1M795.5 635.9H961.1M795.5 612.9H961.1M836.9 612.4V729.8M878.3 612.4V729.8M919.7 612.4V729.8"/>
<g class="t" fill="#000" color="#000"><text x="790.9" y="732.7" text-anchor="end">2</text><text x="790.9" y="709.2" text-anchor="end">12</text><text x="790.9" y="685.7" text-anchor="end">22</text><text x="790.9" y="662.3" text-anchor="end">32</text><text x="790.9" y="638.8" text-anchor="end">42</text><text x="790.9" y="615.3" text-anchor="end">52</text><text x="795.5" y="740.6" text-anchor="middle">−72</text><text x="836.9" y="740.6" text-anchor="middle">−48</text><text x="878.3" y="740.6" text-anchor="middle">−24</text><text x="919.7" y="740.6" text-anchor="middle">0</text><text x="961.1" y="740.6" text-anchor="middle">24</text></g>
<clipPath id="c44"><rect x="785.5" y="743.8" width="185.6" height="11.1"/></clipPath><text class="n" clip-path="url(#c44)" x="878.3" y="754.7" fill="#000" stroke="#000" style="font-size:8.9px;letter-spacing:0;stroke-width:.6px" textLength="15.4" lengthAdjust="spacingAndGlyphs">ALL</text>
</g>
</svg>
</body></html>
